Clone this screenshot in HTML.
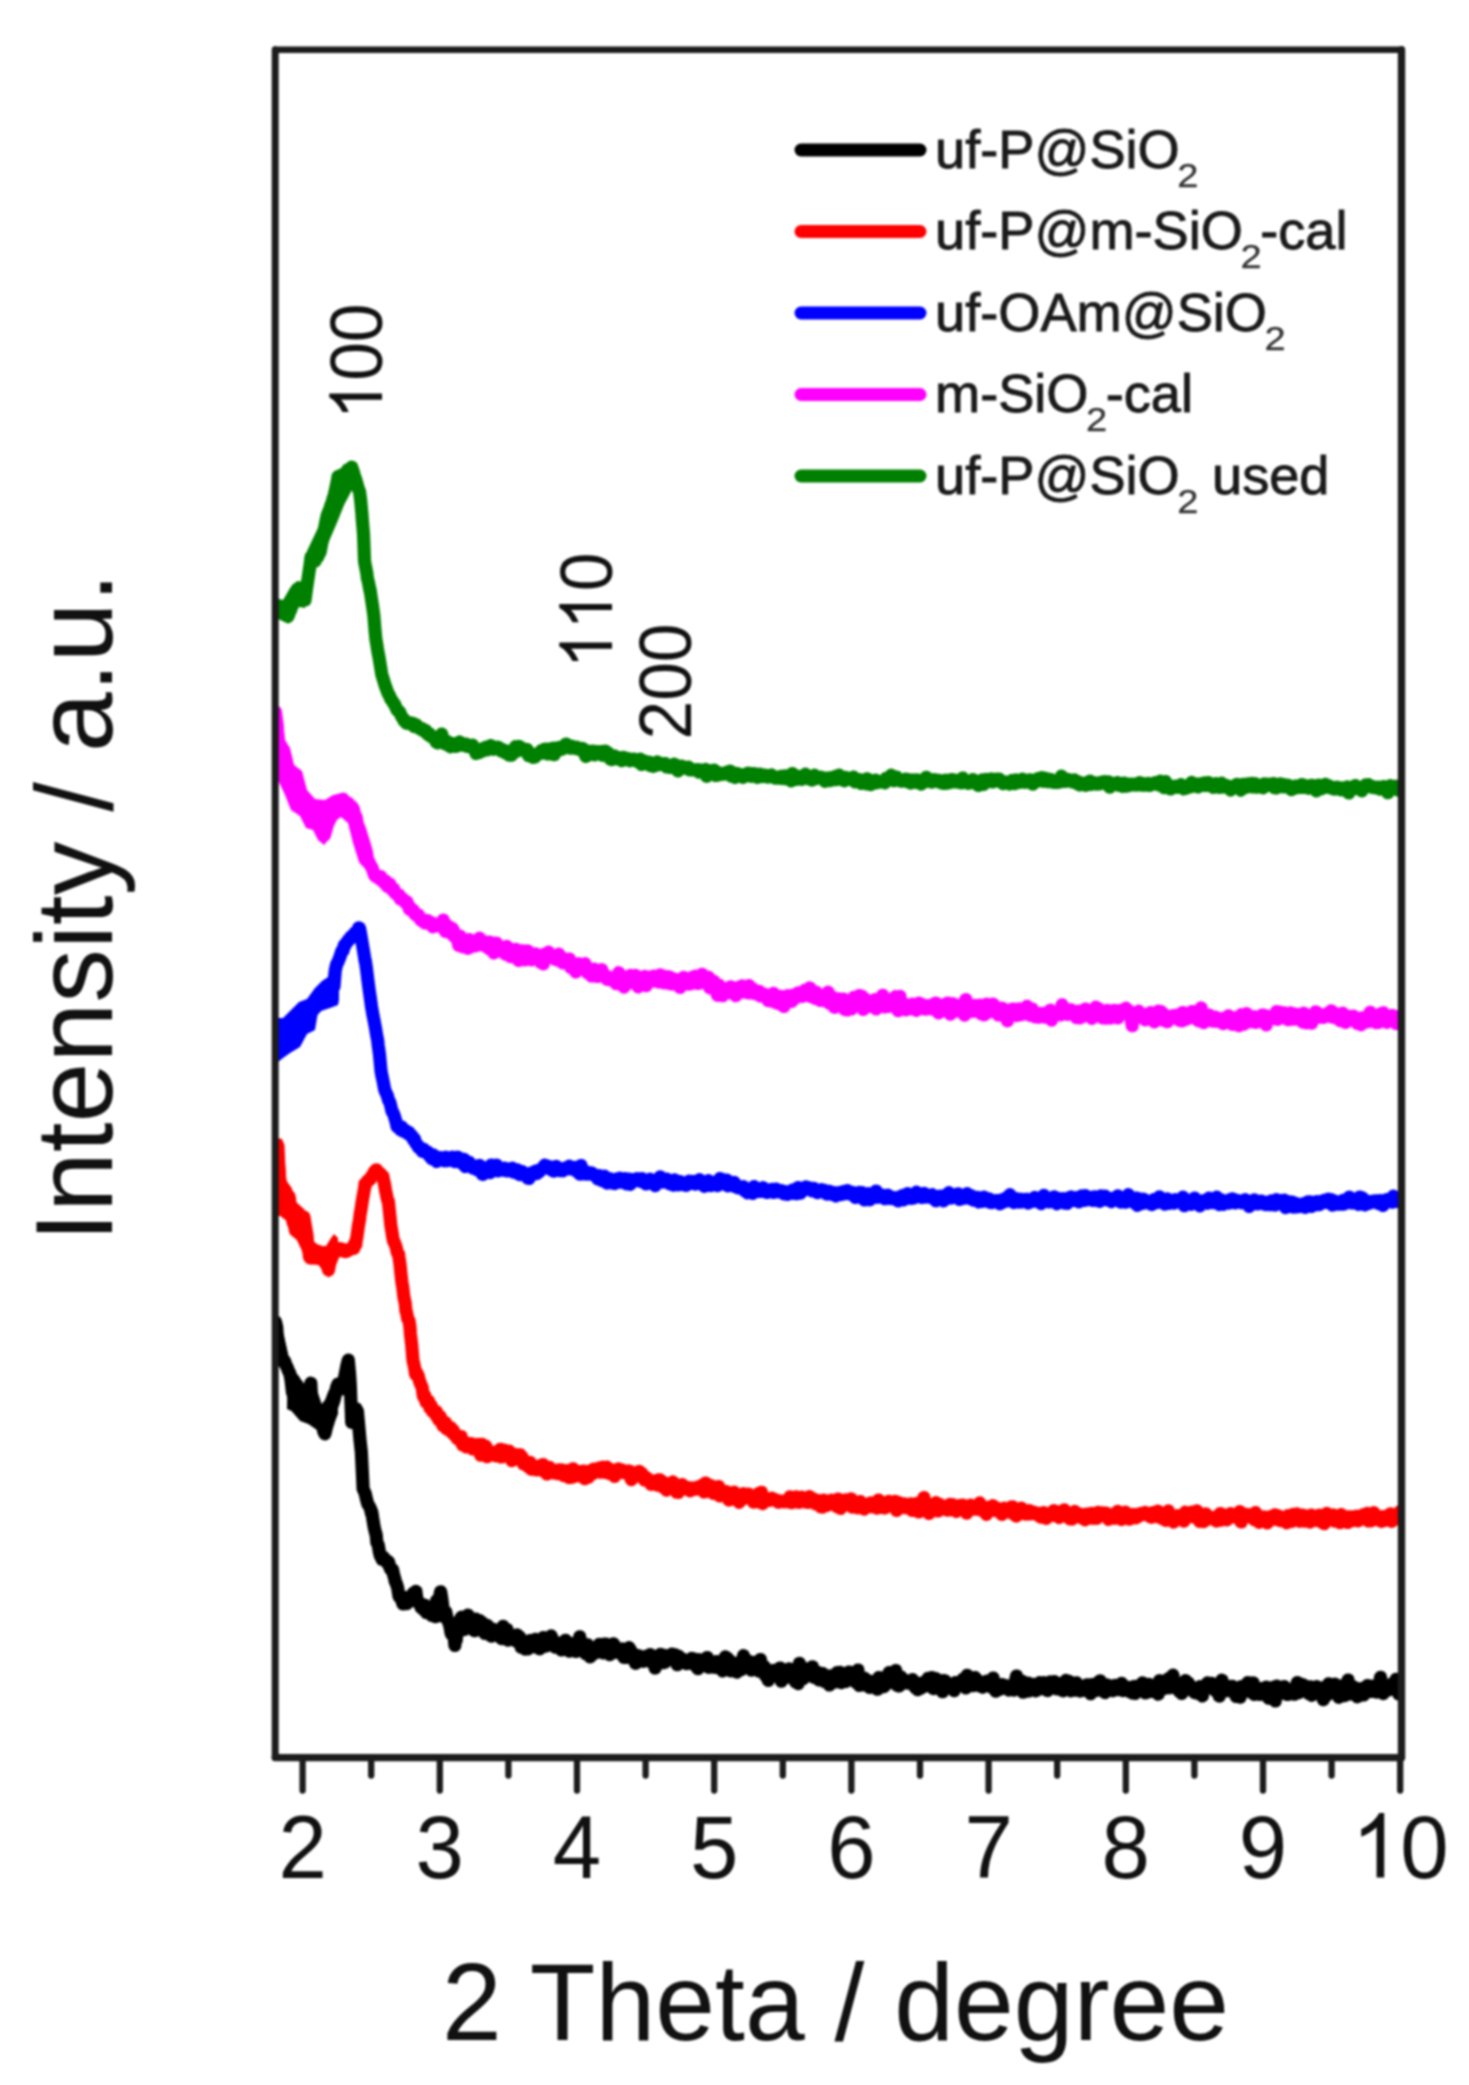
<!DOCTYPE html>
<html><head><meta charset="utf-8"><style>
html,body{margin:0;padding:0;background:#fff;}
body{width:1469px;height:2085px;overflow:hidden;font-family:"Liberation Sans",sans-serif;}
svg{display:block;}
#w{width:1469px;height:2085px;filter:blur(1px);}
</style></head><body>
<div id="w"><svg width="1469" height="2085" viewBox="0 0 1469 2085"><defs><clipPath id="pc"><rect x="274.9" y="49.5" width="1126.4" height="1708.0"/></clipPath></defs><g clip-path="url(#pc)" fill="none" stroke-width="13.2" stroke-linejoin="round" stroke-linecap="round"><path stroke="#008000" d="M275.0 608.3L276.3 608.5 277.6 610.0 278.9 611.9 280.2 612.5 281.0 613.0 281.5 613.4 282.8 613.9 284.1 614.5 285.4 614.4 286.7 615.9 288.0 616.4 289.3 612.8 290.6 610.0 291.9 604.6 293.0 602.0 293.2 601.5 294.5 596.0 295.8 593.4 297.0 590.1 297.1 589.3 298.4 593.3 299.7 594.9 301.0 597.1 302.3 599.7 303.6 599.3 304.9 599.8 305.0 600.1 306.2 591.2 307.5 582.1 308.8 573.6 310.1 564.7 311.0 557.0 311.4 558.3 312.7 558.7 314.0 560.4 315.0 561.1 315.3 560.3 316.6 557.1 317.9 556.7 319.2 553.1 320.0 552.6 320.5 549.8 321.8 543.1 323.1 536.8 324.4 529.4 325.7 522.4 327.0 516.3 328.3 512.6 329.6 509.5 330.9 505.4 332.2 502.0 333.5 497.3 334.0 498.0 334.8 493.4 336.1 486.8 337.4 480.2 338.0 476.6 338.7 476.8 340.0 475.7 341.3 475.5 342.6 474.6 343.9 474.1 345.2 472.9 346.0 472.8 346.5 473.1 347.8 469.8 349.1 469.6 350.4 468.6 351.7 467.2 352.0 468.3 353.0 470.7 354.3 475.3 355.6 479.1 356.0 480.2 356.9 483.5 358.2 488.4 359.5 491.5 360.0 494.7 360.8 501.7 362.0 514.9 362.1 517.4 363.4 532.7 363.6 535.7 364.5 560.2 364.7 562.3 366.0 568.9 367.0 574.2 367.3 577.7 368.6 583.0 369.9 590.4 370.0 589.2 371.2 597.2 372.5 605.7 373.5 612.8 373.8 614.9 375.1 631.4 376.0 640.2 376.4 642.0 377.7 650.5 379.0 657.2 380.3 665.3 381.6 673.3 382.0 675.2 382.9 678.0 384.2 682.3 385.5 686.5 386.8 689.8 387.0 690.6 388.1 693.6 389.4 695.4 390.7 698.8 392.0 700.4 393.3 702.7 394.0 703.6 394.6 704.3 395.9 707.5 397.2 710.2 398.5 710.9 399.8 712.4 401.1 715.6 402.4 717.7 403.7 719.1 404.0 720.9 405.0 720.6 406.3 723.1 407.6 722.4 408.9 723.5 410.2 722.9 411.5 723.9 412.8 723.4 414.0 726.4 414.1 726.1 415.4 724.6 416.7 725.2 418.0 726.9 419.3 728.4 420.6 729.2 421.9 728.7 423.2 730.8 424.5 731.2 425.0 730.8 425.8 730.4 427.1 733.5 428.4 734.8 429.7 734.0 431.0 736.6 432.3 736.7 433.6 737.6 434.9 738.7 436.2 742.0 437.5 742.9 438.8 742.5 439.0 740.4 440.1 740.5 441.4 734.5 441.7 734.1 442.7 738.7 444.0 742.1 445.3 744.1 446.6 742.6 447.9 741.7 449.2 746.0 450.5 746.7 451.8 745.4 453.1 743.5 454.4 746.2 455.0 745.4 455.7 746.4 457.0 743.4 458.3 745.6 459.6 741.9 460.9 744.2 462.2 743.9 463.5 745.1 464.8 744.1 466.1 744.0 467.4 746.5 468.7 745.4 470.0 746.8 471.3 746.6 472.0 747.3 472.6 745.2 473.9 749.5 475.2 750.7 476.0 753.5 476.5 750.0 477.8 751.7 479.1 752.7 480.4 751.2 481.7 751.2 483.0 748.3 484.3 749.0 485.6 747.2 486.9 750.0 488.2 748.0 489.5 747.3 490.8 745.5 492.1 746.3 493.4 749.3 494.7 747.2 496.0 747.8 497.3 747.2 498.6 747.5 499.9 748.5 501.2 750.9 502.5 750.6 503.8 750.2 505.1 752.7 506.4 752.7 507.7 754.0 509.0 755.2 510.0 752.7 510.3 751.0 511.6 755.2 512.9 751.2 514.2 751.9 515.5 746.6 516.8 751.3 518.1 747.8 519.0 748.9 519.4 746.4 520.7 748.6 522.0 750.1 523.3 748.6 524.6 751.0 525.9 751.3 527.2 749.7 528.5 755.7 529.8 752.7 531.1 756.0 532.4 756.7 533.0 757.4 533.7 755.4 535.0 756.9 536.3 754.2 537.6 754.7 538.9 753.5 540.0 752.9 540.2 752.0 541.5 750.6 542.8 753.2 544.1 749.3 545.4 751.8 546.7 749.1 548.0 754.0 549.3 749.6 550.6 752.5 551.9 748.4 553.2 748.2 554.0 754.7 554.5 752.8 555.8 748.9 557.1 751.3 558.4 747.6 559.7 747.5 561.0 747.8 562.3 749.1 563.6 747.1 564.9 745.1 566.2 744.1 567.0 746.2 567.5 747.2 568.8 746.0 570.1 748.2 571.4 746.0 572.7 747.2 574.0 747.5 575.3 748.4 576.6 747.1 577.9 748.5 579.2 748.3 580.5 750.0 581.8 748.5 583.1 748.8 584.4 751.4 585.7 756.4 587.0 751.0 588.3 755.1 589.6 751.8 590.9 754.2 592.2 751.0 593.5 751.7 594.0 751.4 594.8 754.9 596.1 751.6 597.4 751.7 598.7 751.9 600.0 753.2 601.3 751.5 602.6 755.3 603.9 753.6 605.2 751.0 606.5 755.5 607.8 752.5 609.1 756.9 610.4 759.1 611.7 759.6 613.0 758.2 614.3 755.8 615.6 757.0 616.9 758.9 618.2 759.0 619.5 757.7 620.8 758.8 622.0 760.7 622.1 759.5 623.4 757.3 624.7 758.6 626.0 758.5 627.3 758.6 628.6 758.8 629.9 760.8 631.2 759.3 632.5 759.3 633.8 759.2 635.1 760.2 636.4 760.9 637.7 761.4 639.0 762.4 640.3 759.1 641.6 764.5 642.9 763.7 644.2 760.9 645.5 762.3 646.8 764.0 648.1 763.7 649.0 762.1 649.4 763.3 650.7 765.7 652.0 765.4 653.3 766.3 654.6 765.7 655.9 764.7 657.2 761.9 658.5 764.8 659.8 763.2 661.1 764.0 662.4 764.1 663.7 764.3 665.0 763.5 666.3 766.9 667.6 765.7 668.9 767.1 670.2 766.3 671.5 767.5 672.8 765.6 674.1 764.1 675.4 765.9 676.0 766.7 676.7 765.3 678.0 771.0 679.3 768.6 680.6 767.2 681.9 766.0 683.2 767.2 684.5 767.0 685.8 768.1 687.1 768.7 688.4 767.1 689.7 769.9 691.0 769.8 692.3 769.9 693.6 769.6 694.9 769.9 696.2 770.4 697.5 769.6 698.8 772.1 700.1 769.8 701.4 770.9 702.7 771.9 703.0 771.1 704.0 771.2 705.3 769.4 706.6 776.3 707.9 773.4 709.2 770.6 710.5 771.0 711.8 771.8 713.1 772.8 714.4 770.1 715.7 775.5 717.0 774.9 718.3 775.1 719.6 773.1 720.9 773.3 722.2 774.0 723.5 773.4 724.8 774.0 726.1 772.9 727.4 772.1 728.7 773.5 730.0 771.1 731.0 773.1 731.3 776.2 732.6 774.2 733.9 772.8 735.2 777.4 736.5 776.1 737.8 773.7 739.1 774.9 740.4 775.8 741.7 774.8 743.0 777.4 744.3 775.8 745.6 775.0 746.9 773.7 748.2 773.1 749.5 774.5 750.8 776.3 752.1 773.5 753.4 775.1 754.7 773.6 756.0 776.5 757.3 777.4 758.0 776.1 758.6 775.6 759.9 774.2 761.2 775.0 762.5 776.6 763.8 775.2 765.1 775.2 766.4 776.4 767.7 777.2 769.0 775.6 770.3 776.4 771.6 774.9 772.9 776.6 774.2 777.7 775.5 778.1 776.8 777.7 778.1 778.2 779.4 777.1 780.7 776.4 782.0 778.5 783.3 776.2 784.6 778.7 785.0 776.9 785.9 775.9 787.2 779.0 788.5 778.3 789.8 779.0 791.1 781.0 792.4 773.5 793.7 776.5 795.0 778.0 796.3 779.5 797.6 776.2 798.9 777.3 800.2 778.2 801.5 779.3 802.8 778.8 804.1 776.5 805.4 774.2 806.7 777.3 808.0 777.6 809.3 779.0 810.6 778.3 811.9 777.7 812.0 780.1 813.2 778.6 814.5 775.2 815.8 778.7 817.1 777.4 818.4 778.0 819.7 777.7 821.0 777.2 822.3 777.8 823.6 777.8 824.9 781.3 826.2 779.7 827.5 778.9 828.8 777.8 830.1 780.6 831.4 780.1 832.7 778.0 834.0 776.8 835.3 779.7 836.6 776.0 837.9 779.4 839.2 775.1 840.0 777.9 840.5 777.8 841.8 777.8 843.1 778.0 844.4 780.8 845.7 777.4 847.0 778.1 848.3 778.6 849.6 779.3 850.9 778.9 852.2 778.8 853.5 777.0 854.8 781.9 856.1 781.0 857.4 781.2 858.7 780.2 860.0 779.7 861.3 783.5 862.6 780.8 863.9 781.8 865.2 781.6 866.5 783.8 867.0 778.8 867.8 783.0 869.1 783.4 870.4 784.6 871.7 784.3 873.0 781.8 874.3 780.8 875.6 780.1 876.9 782.7 878.2 782.3 879.5 782.0 880.8 781.9 882.1 781.8 883.4 781.0 884.7 782.8 886.0 778.4 887.3 779.0 888.6 777.7 889.9 778.9 891.2 775.2 892.5 778.0 893.8 780.7 894.0 779.4 895.1 779.6 896.4 777.0 897.7 778.8 899.0 779.8 900.3 781.0 901.6 780.6 902.9 781.2 904.2 780.5 905.5 779.2 906.8 779.3 908.1 782.0 909.4 781.4 910.7 783.1 912.0 779.9 913.3 781.7 914.6 780.2 915.9 782.4 917.2 779.8 918.5 781.8 919.8 780.8 921.0 782.1 921.1 784.2 922.4 782.5 923.7 782.4 925.0 779.0 926.3 777.3 927.6 781.0 928.9 780.8 930.2 780.7 931.5 782.2 932.8 780.2 934.1 779.6 935.4 781.0 936.7 781.3 938.0 780.0 939.3 782.2 940.6 780.9 941.9 783.1 943.2 780.5 944.5 783.5 945.8 780.1 947.1 783.1 948.4 783.0 949.7 780.7 951.0 779.6 952.3 779.6 953.6 781.9 954.9 781.8 956.2 780.5 957.5 781.1 958.8 782.5 960.1 782.5 961.4 782.9 962.7 778.0 964.0 779.5 965.3 780.6 966.6 781.5 967.9 783.3 969.2 783.0 970.5 782.3 971.8 782.5 973.1 779.5 974.4 782.6 975.7 781.8 977.0 783.1 978.3 785.4 979.6 782.9 980.9 782.2 982.2 779.9 983.5 784.5 984.8 782.9 986.1 779.4 987.4 779.7 988.7 780.1 990.0 779.3 991.3 778.8 992.6 781.9 993.9 781.5 995.2 781.1 996.5 779.1 997.8 780.1 999.1 779.1 1000.0 781.0 1000.4 781.8 1001.7 781.9 1003.0 783.7 1004.3 781.9 1005.6 782.0 1006.9 782.2 1008.2 783.0 1009.5 784.0 1010.8 783.4 1012.1 780.4 1013.4 783.0 1014.7 783.7 1016.0 779.9 1017.3 780.7 1018.6 782.1 1019.9 782.4 1021.2 781.6 1022.5 779.2 1023.8 781.0 1025.1 782.4 1026.4 781.1 1027.7 781.6 1029.0 779.8 1030.3 779.8 1031.6 782.1 1032.9 784.2 1034.2 781.5 1035.5 780.8 1036.8 781.2 1038.1 778.6 1039.4 780.1 1040.7 780.3 1042.0 777.5 1043.3 781.3 1044.6 778.1 1045.9 778.7 1047.2 781.7 1048.5 779.2 1049.8 781.6 1051.1 779.5 1052.4 782.0 1053.7 782.3 1055.0 781.4 1056.3 782.2 1057.6 782.5 1058.9 782.0 1060.2 781.9 1061.5 776.1 1062.8 781.3 1064.1 779.0 1065.4 781.3 1066.7 780.5 1068.0 779.4 1069.3 779.9 1070.6 781.4 1071.9 781.2 1073.2 782.2 1074.5 779.9 1075.8 782.1 1077.1 783.6 1078.4 781.8 1079.7 785.0 1081.0 783.4 1082.3 784.1 1083.6 783.6 1084.9 783.1 1086.2 785.2 1087.5 784.7 1088.8 781.7 1090.1 781.0 1091.4 784.4 1092.7 783.5 1094.0 783.9 1095.3 783.1 1096.6 784.2 1097.9 783.8 1099.2 784.0 1100.0 782.7 1100.5 782.7 1101.8 782.0 1103.1 782.3 1104.4 781.6 1105.7 783.7 1107.0 782.4 1108.3 781.8 1109.6 787.2 1110.9 784.9 1112.2 783.6 1113.5 784.1 1114.8 784.6 1116.1 783.5 1117.4 782.5 1118.7 785.4 1120.0 784.6 1121.3 783.8 1122.6 786.4 1123.9 783.0 1125.2 784.5 1126.5 786.2 1127.8 784.9 1129.1 784.1 1130.4 785.1 1131.7 784.1 1133.0 784.4 1134.3 784.1 1135.6 785.0 1136.9 784.1 1138.2 784.8 1139.5 782.5 1140.8 783.4 1142.1 785.2 1143.4 783.6 1144.7 785.2 1146.0 785.2 1147.3 784.2 1148.6 783.4 1149.9 785.5 1151.2 784.3 1152.5 784.2 1153.8 784.2 1155.1 782.7 1156.4 783.8 1157.7 783.9 1159.0 785.1 1160.3 781.2 1161.6 783.4 1162.9 785.1 1164.2 787.7 1165.5 781.5 1166.8 784.6 1168.1 785.2 1169.4 788.4 1170.7 789.0 1172.0 786.4 1173.3 787.1 1174.6 786.3 1175.9 786.2 1177.2 787.3 1178.5 787.0 1179.8 785.7 1181.1 784.8 1182.4 785.6 1183.7 788.9 1185.0 787.6 1186.3 788.2 1187.6 786.0 1188.9 786.5 1190.2 787.0 1191.5 782.4 1192.8 783.7 1194.1 785.1 1195.4 783.9 1196.7 786.5 1198.0 786.9 1199.3 783.9 1200.0 785.3 1200.6 785.7 1201.9 784.1 1203.2 785.4 1204.5 782.9 1205.8 785.5 1207.1 784.3 1208.4 782.5 1209.7 785.6 1211.0 785.4 1212.3 786.2 1213.6 787.5 1214.9 786.3 1216.2 783.5 1217.5 785.9 1218.8 787.4 1220.1 785.0 1221.4 783.2 1222.7 787.1 1224.0 785.6 1225.3 785.3 1226.6 785.5 1227.9 787.6 1229.2 786.5 1230.5 790.1 1231.8 788.5 1233.1 786.5 1234.4 786.9 1235.7 785.0 1237.0 784.3 1238.3 786.9 1239.6 785.6 1240.9 790.1 1242.2 784.6 1243.5 784.3 1244.8 785.5 1246.1 787.5 1247.4 783.9 1248.7 784.3 1250.0 785.4 1251.3 783.4 1252.6 787.0 1253.9 786.5 1255.2 783.7 1256.5 787.2 1257.8 785.8 1259.1 786.8 1260.4 785.2 1261.7 786.4 1263.0 787.8 1264.3 783.8 1265.6 786.0 1266.9 784.4 1268.2 784.1 1269.5 784.9 1270.8 784.0 1272.1 784.1 1273.4 783.5 1274.7 787.8 1276.0 788.0 1277.3 785.9 1278.6 785.9 1279.9 783.8 1281.2 786.6 1282.5 784.3 1283.8 786.9 1285.1 785.8 1286.4 785.2 1287.7 785.1 1289.0 785.6 1290.3 788.6 1291.6 789.7 1292.9 787.7 1294.2 787.1 1295.5 786.1 1296.8 787.8 1298.1 785.9 1299.4 786.6 1300.0 786.3 1300.7 787.5 1302.0 784.5 1303.3 785.5 1304.6 787.4 1305.9 785.9 1307.2 786.6 1308.5 788.3 1309.8 786.4 1311.1 785.3 1312.4 785.4 1313.7 787.7 1315.0 788.5 1316.3 790.9 1317.6 785.4 1318.9 785.1 1320.2 787.0 1321.5 788.9 1322.8 786.2 1324.1 785.4 1325.4 784.4 1326.7 787.2 1328.0 785.6 1329.3 785.9 1330.6 787.8 1331.9 787.6 1333.2 788.8 1334.5 789.1 1335.8 787.4 1337.1 787.1 1338.4 789.0 1339.7 789.2 1341.0 789.9 1342.3 788.0 1343.6 788.4 1344.9 788.2 1346.2 787.8 1347.5 786.9 1348.8 793.0 1350.1 789.3 1351.4 789.8 1352.7 787.7 1354.0 786.2 1355.3 785.5 1356.6 787.3 1357.9 788.6 1359.2 787.7 1360.5 789.0 1361.8 790.8 1363.1 787.9 1364.4 786.5 1365.7 784.9 1367.0 786.3 1368.3 784.7 1369.6 786.4 1370.9 787.0 1372.2 786.4 1373.5 787.6 1374.8 787.7 1376.1 787.4 1377.4 788.1 1378.7 787.2 1380.0 789.2 1381.3 787.2 1382.6 788.5 1383.9 786.5 1385.2 787.8 1386.5 788.0 1387.8 792.7 1389.1 787.0 1390.4 785.7 1391.7 786.3 1393.0 788.8 1394.3 786.7 1395.6 786.3 1396.9 788.1 1398.2 790.0 1399.5 789.6 1400.0 788.1 1400.8 787.5 1402.1 788.9 1403.4 791.6 1404.7 789.1 1406.0 789.7"/><path fill="#008000" stroke="none" d="M275.0 598.0 L283.0 600.0 L286.0 595.0 L290.0 588.0 L297.0 581.0 L304.0 582.0 L306.0 570.0 L307.0 551.0 L316.0 532.0 L324.0 515.0 L328.6 491.0 L334.0 472.0 L344.0 467.0 L351.7 461.0 L357.0 463.0 L359.0 481.0 L354.5 494.5 L352.0 490.0 L344.2 504.7 L337.4 521.7 L327.2 545.5 L322.0 556.0 L315.0 570.0 L307.0 595.0 L305.0 608.0 L299.0 607.0 L294.0 616.0 L288.0 624.0 L282.0 618.0 L275.0 616.0Z"/><path stroke="#ff00ff" d="M275.5 712.0L276.8 723.3 277.0 724.3 278.1 743.8 278.2 744.9 279.4 745.6 280.7 748.0 282.0 752.1 283.3 750.7 284.6 755.3 285.0 756.3 285.9 760.8 287.2 766.2 288.5 768.6 289.0 773.0 289.8 772.6 291.1 776.3 292.4 777.5 293.7 780.5 295.0 780.4 296.3 783.7 297.0 785.3 297.6 794.2 298.0 800.7 298.9 802.1 300.2 798.6 301.5 800.2 302.8 798.0 304.1 801.5 305.4 803.2 306.7 801.7 308.0 803.4 309.3 807.7 310.6 808.6 311.9 812.4 313.2 815.5 313.6 814.1 314.5 813.4 315.8 814.5 317.1 813.8 318.4 815.8 319.7 811.8 320.0 812.1 321.0 816.7 322.3 825.4 323.6 830.7 324.5 834.8 324.9 833.3 326.2 828.9 327.5 824.3 328.8 821.5 329.0 820.2 330.1 818.9 331.4 815.8 332.7 813.4 334.0 810.7 335.3 811.8 336.6 810.1 337.9 807.2 339.2 801.4 340.5 803.1 341.8 802.5 342.0 801.0 343.1 799.1 344.4 801.8 345.7 806.8 347.0 804.0 348.3 803.2 349.6 806.0 350.9 808.6 352.0 808.2 352.2 807.1 353.5 809.3 354.8 816.1 356.1 817.0 357.4 824.2 358.5 827.5 358.7 827.1 360.0 830.9 361.3 835.2 362.6 839.4 363.9 843.5 365.2 847.9 366.5 852.8 367.8 861.2 368.0 862.3 369.1 862.1 370.4 865.5 371.7 867.0 373.0 870.4 374.3 874.7 375.0 875.7 375.6 876.3 376.9 876.8 378.2 877.9 379.5 876.8 380.0 879.2 380.8 876.6 382.1 880.4 383.4 881.8 384.7 883.2 386.0 881.2 387.3 886.3 388.6 884.5 389.9 884.1 391.2 888.6 392.5 890.0 393.8 889.1 395.1 893.1 396.4 893.8 397.7 895.2 399.0 894.8 400.3 898.9 401.6 899.3 401.8 899.0 402.9 898.8 404.2 900.8 405.5 902.7 406.8 901.7 408.1 904.6 409.4 909.2 410.7 908.1 412.0 909.6 413.3 910.2 414.6 913.6 415.9 915.2 417.2 915.1 418.5 915.1 419.8 918.5 421.1 920.2 422.4 919.3 423.6 921.8 423.7 921.9 425.0 923.0 426.3 921.9 427.6 920.7 428.9 922.7 430.2 922.0 431.5 923.1 432.8 926.8 434.1 925.8 435.4 924.1 436.7 925.2 438.0 926.0 439.3 925.9 440.6 924.1 441.9 924.3 443.2 920.1 444.5 926.1 445.4 931.4 445.8 924.6 447.1 931.5 448.4 926.2 449.7 928.1 451.0 933.5 452.3 928.4 453.6 930.8 454.9 937.1 456.2 934.5 457.5 938.8 458.8 945.4 460.1 936.2 461.4 944.1 462.7 946.8 464.0 941.9 465.3 942.4 466.6 946.1 467.0 945.8 467.9 948.3 469.2 939.5 470.5 943.2 471.8 946.3 473.1 945.0 474.4 942.3 475.7 945.9 477.0 945.4 478.3 941.1 479.6 938.2 480.9 944.3 482.2 943.8 483.5 945.0 484.8 945.9 486.1 942.1 487.4 943.1 488.7 948.6 489.0 943.1 490.0 942.1 491.3 943.2 492.6 948.4 493.9 953.0 495.2 950.8 496.5 943.2 497.8 948.2 499.1 946.3 500.4 951.1 501.7 949.7 503.0 948.9 504.3 947.8 505.6 954.3 506.9 946.4 508.2 950.1 509.5 948.5 510.7 955.4 510.8 956.7 512.1 954.2 513.4 956.1 514.7 953.5 516.0 949.4 517.3 954.6 518.6 960.5 519.9 953.3 521.2 957.7 522.5 950.8 523.8 957.2 525.1 959.9 526.4 957.0 527.7 950.9 529.0 956.9 530.3 954.2 531.6 959.9 532.5 958.2 532.9 956.9 534.2 958.0 535.5 953.8 536.8 956.2 538.1 959.2 539.4 958.0 540.7 962.4 542.0 958.9 543.3 963.9 544.6 954.0 545.9 956.1 547.2 957.0 548.5 952.2 549.8 957.2 551.1 954.8 552.4 955.5 553.7 955.3 554.3 957.3 555.0 959.3 556.3 956.3 557.6 960.2 558.9 954.2 560.2 957.4 561.5 957.1 562.8 962.8 564.1 961.8 565.4 959.6 566.7 962.8 568.0 962.5 569.3 959.0 570.6 967.3 571.9 963.9 573.2 966.7 574.5 968.3 575.8 972.0 576.0 965.8 577.1 964.3 578.4 963.8 579.7 965.3 581.0 968.1 582.3 966.5 583.6 965.5 584.9 963.7 586.2 967.2 587.5 972.8 588.8 972.2 590.1 972.0 591.4 976.0 592.7 975.4 594.0 969.0 595.3 976.1 596.6 971.7 597.9 976.4 599.2 971.9 600.5 973.3 601.8 969.7 603.1 973.5 604.4 977.1 605.7 976.5 607.0 979.4 608.3 976.8 609.6 979.6 610.9 979.5 612.2 979.5 613.5 981.1 614.8 977.4 616.1 983.7 617.4 982.2 618.7 972.7 619.6 973.8 620.0 981.3 621.3 981.5 622.6 977.6 623.9 987.1 625.2 978.6 626.5 982.2 627.8 983.6 629.1 977.7 630.4 975.4 631.7 978.5 633.0 976.9 634.3 981.8 635.6 975.4 636.9 982.8 638.2 986.9 639.5 979.8 640.8 979.0 641.4 981.8 642.1 980.5 643.4 977.8 644.7 976.3 646.0 985.7 647.3 977.1 648.6 980.0 649.9 981.0 651.2 981.4 652.5 980.0 653.8 976.0 655.1 980.3 656.4 981.1 657.7 976.0 659.0 982.1 660.3 974.9 661.6 981.3 662.9 977.5 663.2 977.9 664.2 982.9 665.5 976.5 666.8 981.8 668.1 983.3 669.4 976.9 670.7 980.2 672.0 984.1 673.3 978.6 674.6 980.4 675.9 982.6 677.2 982.4 678.5 985.1 679.8 979.4 680.0 987.5 681.1 983.6 682.4 980.7 683.7 977.4 685.0 984.1 686.3 981.7 687.6 979.6 688.9 984.1 690.2 983.9 691.5 983.5 692.8 977.0 694.1 977.3 695.4 976.0 696.7 979.7 698.0 983.5 699.3 982.7 700.6 982.8 701.9 974.3 702.0 978.9 703.2 977.3 704.5 980.1 705.8 982.2 707.1 983.5 708.4 977.3 709.7 987.8 711.0 983.3 712.3 987.6 713.6 981.2 714.9 988.5 716.2 989.4 717.5 995.3 718.8 985.0 720.1 990.6 721.0 988.1 721.4 987.4 722.7 995.7 724.0 991.8 725.3 992.8 726.6 992.0 727.9 990.4 729.2 990.3 730.5 986.8 731.8 993.3 733.1 992.7 734.4 989.6 735.7 995.6 737.0 990.5 738.3 987.3 739.6 991.4 740.9 992.1 742.2 985.9 743.5 991.2 744.8 992.1 746.1 988.7 747.4 992.0 748.0 992.9 748.7 985.5 750.0 992.8 751.3 989.2 752.6 988.6 753.9 993.3 755.2 991.3 756.5 994.1 757.8 992.5 759.1 991.3 760.4 995.9 761.7 994.4 763.0 995.8 764.3 994.2 765.6 997.5 766.9 996.7 768.2 1000.7 769.5 996.3 770.8 999.7 772.1 996.5 773.4 993.4 774.7 1002.2 775.0 999.9 776.0 1000.8 777.3 1003.3 778.6 996.2 779.9 997.2 781.2 996.5 782.5 997.3 783.8 1006.5 785.1 998.4 786.4 998.9 787.7 995.7 789.0 997.6 790.3 996.4 791.6 1001.3 792.9 995.0 794.2 999.0 795.5 994.4 796.8 994.9 798.1 992.8 799.4 996.4 800.7 993.5 802.0 996.4 803.3 993.8 804.6 991.4 805.0 990.0 805.9 995.1 807.2 989.7 808.5 995.8 809.8 987.9 811.1 996.7 812.4 996.5 813.7 996.0 815.0 998.3 816.3 992.3 817.6 995.5 818.9 998.6 820.2 1000.5 821.5 997.4 822.8 998.1 824.1 997.8 825.4 1000.9 826.7 996.0 828.0 992.2 829.3 1003.2 830.6 1001.9 831.9 996.9 832.0 1002.0 833.2 1005.5 834.5 1007.3 835.8 1000.9 837.1 1005.7 838.4 998.8 839.7 1004.4 841.0 1005.6 842.3 1000.0 843.6 999.1 844.9 1009.6 846.2 1006.7 847.5 1009.9 848.8 1002.0 850.1 1001.0 851.4 1008.9 852.7 1002.3 854.0 997.3 855.3 1002.4 856.6 1004.7 857.9 1004.0 859.2 995.5 860.5 1003.6 861.8 996.3 863.1 1009.4 864.4 998.4 865.7 1000.3 867.0 1003.0 868.3 1001.2 869.6 1006.5 870.0 1001.0 870.9 1004.3 872.2 1004.4 873.5 1004.5 874.8 999.7 876.1 1008.9 877.4 1000.9 878.7 1000.6 880.0 1002.6 881.3 1004.2 882.6 995.3 883.9 1002.3 885.2 1007.0 886.5 1004.3 887.8 1004.2 889.1 1006.3 890.4 1004.7 891.7 999.4 893.0 1000.0 894.3 1004.2 895.6 996.7 896.9 1004.4 898.0 1010.7 898.2 1003.7 899.5 1008.4 900.0 996.4 900.8 1003.5 902.1 1005.6 903.4 1007.1 904.7 1004.3 906.0 1009.8 907.3 1006.3 908.6 1005.4 909.9 1006.6 911.2 1008.8 912.5 1004.0 913.8 1006.8 915.1 1005.5 916.4 1010.3 917.7 1007.2 919.0 1003.0 920.3 1006.9 921.6 1004.2 922.9 1008.7 924.2 1006.9 925.5 1009.0 926.8 1008.5 928.1 1005.5 929.4 1008.6 930.7 1008.6 932.0 1009.0 933.0 1009.0 933.3 1007.7 934.6 1003.5 935.9 1003.1 937.2 1008.9 938.5 1013.0 939.8 1011.5 941.1 1007.0 942.4 1009.8 943.7 1008.6 945.0 1004.2 946.3 1006.5 947.6 1003.0 948.9 1008.8 950.2 1014.1 951.5 1007.6 952.8 1003.7 954.1 1008.9 955.4 1011.2 956.7 1005.3 958.0 1010.3 959.3 1008.9 960.6 1007.2 961.9 1007.4 963.2 1012.7 964.5 1015.1 965.8 999.6 967.1 1008.6 968.0 1011.6 968.4 1004.4 969.7 1007.1 971.0 1010.2 972.3 1011.2 973.6 1010.3 974.9 1005.4 976.2 1009.5 977.5 1011.4 978.8 1012.1 980.1 1005.2 981.4 1013.9 982.7 1007.6 984.0 1014.8 985.3 1005.1 986.6 1004.0 987.9 1009.2 989.2 1012.1 990.5 1007.5 991.8 1010.1 993.1 1004.1 994.4 1005.7 995.7 1008.5 997.0 1010.3 998.3 1014.9 999.6 1012.6 1000.0 1010.9 1000.9 1011.6 1002.2 1008.1 1003.5 1016.0 1004.8 1010.4 1006.1 1010.6 1007.4 1020.8 1008.7 1010.1 1010.0 1014.0 1011.3 1012.0 1012.6 1009.2 1013.9 1009.2 1015.2 1011.9 1016.5 1015.6 1017.8 1013.5 1019.1 1008.9 1020.4 1014.9 1021.7 1010.5 1023.0 1009.1 1024.3 1009.2 1025.6 1013.9 1026.9 1006.3 1028.2 1009.5 1029.5 1013.4 1030.8 1015.5 1032.1 1008.9 1033.4 1013.9 1034.7 1013.7 1036.0 1017.0 1037.3 1016.9 1038.6 1017.3 1039.9 1015.3 1041.2 1013.3 1042.5 1015.3 1043.8 1016.6 1045.1 1017.1 1046.4 1015.2 1047.7 1012.1 1049.0 1012.8 1050.3 1010.2 1051.6 1020.1 1052.9 1013.4 1054.2 1015.5 1055.5 1014.9 1056.8 1015.0 1058.1 1012.8 1059.4 1010.8 1060.7 1014.9 1062.0 1004.9 1063.3 1011.6 1064.6 1010.2 1065.9 1010.6 1067.2 1014.4 1068.5 1009.9 1069.8 1011.8 1071.1 1009.8 1072.4 1013.1 1073.7 1011.9 1075.0 1015.5 1076.3 1017.6 1077.6 1013.5 1078.9 1011.0 1080.0 1017.9 1080.2 1015.0 1081.5 1016.4 1082.8 1016.0 1084.1 1016.1 1085.4 1009.0 1086.7 1014.5 1088.0 1012.5 1089.3 1013.6 1090.6 1012.8 1091.9 1018.3 1093.2 1012.8 1094.5 1014.0 1095.8 1007.2 1097.1 1015.1 1098.4 1008.5 1099.7 1014.3 1101.0 1013.1 1102.3 1017.9 1103.6 1016.3 1104.9 1018.2 1106.2 1018.1 1107.5 1010.4 1108.8 1017.5 1110.1 1018.1 1111.4 1017.6 1112.7 1014.2 1114.0 1010.3 1115.3 1016.0 1116.6 1017.0 1117.9 1018.0 1119.2 1010.5 1120.5 1014.2 1121.0 1014.7 1121.8 1013.7 1123.1 1009.8 1124.4 1009.8 1125.7 1008.2 1127.0 1010.9 1128.3 1010.4 1129.6 1014.5 1130.9 1016.9 1132.2 1025.7 1133.5 1013.2 1134.8 1018.0 1136.1 1017.4 1137.4 1013.2 1138.7 1011.2 1140.0 1012.9 1141.3 1016.9 1142.6 1016.6 1143.9 1014.5 1145.2 1019.8 1146.5 1018.5 1147.8 1019.1 1149.1 1016.7 1150.4 1012.5 1151.7 1015.3 1153.0 1017.0 1154.3 1021.8 1155.6 1014.7 1156.9 1013.4 1158.2 1011.1 1159.5 1019.2 1160.8 1011.5 1162.1 1019.9 1163.4 1013.9 1164.7 1020.7 1166.0 1016.6 1167.3 1021.7 1168.6 1017.5 1169.9 1016.3 1171.2 1017.5 1172.5 1015.9 1173.8 1017.5 1175.1 1015.3 1176.4 1017.0 1177.7 1019.3 1179.0 1016.3 1180.3 1020.6 1181.6 1013.2 1182.0 1020.9 1182.9 1012.5 1184.2 1019.7 1185.5 1014.5 1186.8 1019.2 1188.1 1013.3 1189.4 1014.1 1190.7 1016.3 1192.0 1011.5 1193.3 1011.8 1194.6 1014.9 1195.9 1017.1 1197.2 1019.7 1198.5 1020.8 1199.8 1014.6 1201.1 1007.9 1202.4 1020.5 1203.7 1022.6 1205.0 1016.5 1206.3 1020.3 1207.6 1020.1 1208.9 1015.0 1210.2 1020.4 1211.5 1017.0 1212.8 1021.1 1214.1 1019.0 1215.4 1017.1 1216.7 1021.3 1218.0 1020.1 1219.3 1021.1 1220.6 1018.7 1221.9 1018.5 1223.2 1023.7 1224.5 1020.1 1225.8 1022.2 1227.1 1022.0 1228.4 1015.8 1229.7 1017.7 1231.0 1020.6 1232.3 1024.4 1233.6 1017.9 1234.9 1018.8 1236.2 1017.5 1237.5 1020.0 1238.8 1025.7 1240.1 1022.4 1241.4 1014.7 1242.7 1018.1 1244.0 1024.2 1245.3 1022.2 1246.6 1013.7 1247.9 1019.3 1249.2 1018.4 1250.5 1021.8 1251.8 1020.2 1253.1 1020.2 1254.4 1016.7 1255.7 1022.4 1257.0 1020.1 1258.3 1020.6 1259.6 1021.5 1260.9 1017.8 1262.2 1015.2 1263.5 1015.1 1264.8 1017.5 1266.1 1024.9 1267.4 1016.5 1268.7 1016.4 1270.0 1017.7 1271.3 1017.0 1272.6 1015.9 1273.9 1018.6 1275.2 1017.2 1276.5 1011.6 1277.8 1019.3 1279.1 1012.0 1280.4 1017.4 1281.7 1012.7 1283.0 1016.6 1284.3 1012.8 1285.6 1017.1 1286.9 1016.3 1288.2 1019.7 1289.5 1019.5 1290.8 1012.9 1292.1 1019.2 1293.4 1013.7 1294.7 1019.2 1296.0 1014.4 1297.3 1015.8 1298.6 1014.3 1299.9 1017.4 1301.2 1018.5 1302.5 1022.1 1303.8 1013.2 1305.0 1016.3 1305.1 1020.6 1306.4 1023.0 1307.7 1022.1 1309.0 1020.4 1310.3 1018.9 1311.6 1023.1 1312.9 1018.0 1314.2 1015.2 1315.5 1011.8 1316.8 1012.4 1318.1 1014.1 1319.4 1017.1 1320.7 1015.1 1322.0 1015.7 1323.3 1017.4 1324.6 1014.9 1325.9 1016.3 1327.2 1013.5 1328.5 1013.1 1329.8 1015.2 1331.1 1010.8 1332.4 1017.2 1333.7 1016.9 1335.0 1013.3 1336.3 1018.1 1337.6 1016.3 1338.9 1014.4 1340.2 1020.6 1341.5 1016.0 1342.8 1013.2 1344.1 1018.3 1345.4 1022.4 1346.7 1015.9 1348.0 1020.3 1349.3 1017.9 1350.6 1019.9 1351.9 1020.0 1353.2 1016.0 1354.5 1017.0 1355.8 1021.0 1357.1 1023.3 1358.4 1020.2 1359.7 1022.9 1361.0 1024.8 1362.3 1017.8 1363.6 1018.1 1364.9 1019.3 1366.0 1018.5 1366.2 1022.1 1367.5 1016.8 1368.8 1021.4 1370.1 1012.3 1371.4 1018.4 1372.7 1017.3 1374.0 1021.7 1375.3 1017.6 1376.6 1022.7 1377.9 1021.2 1379.2 1022.3 1380.5 1013.9 1381.8 1018.7 1383.1 1012.8 1384.4 1017.2 1385.7 1017.5 1387.0 1022.3 1388.3 1019.4 1389.6 1019.9 1390.9 1019.1 1392.2 1015.4 1393.5 1021.0 1394.8 1020.0 1396.1 1023.6 1397.4 1016.5 1398.7 1021.7 1400.0 1019.2 1401.3 1019.7 1402.6 1024.8 1403.9 1019.1 1405.2 1018.4"/><path fill="#ff00ff" stroke="none" d="M276.0 706.0 L280.0 708.0 L283.0 720.0 L285.0 740.0 L290.0 748.0 L294.0 765.0 L302.0 771.0 L307.0 790.0 L315.0 799.0 L325.0 800.0 L333.0 795.0 L342.0 793.0 L350.0 800.0 L357.0 810.0 L362.0 825.0 L362.0 866.0 L359.0 862.0 L353.0 843.0 L348.0 823.0 L341.0 817.0 L334.0 822.0 L330.0 838.0 L324.0 845.0 L318.0 840.0 L313.0 830.0 L306.0 828.0 L300.0 816.0 L291.0 810.0 L285.0 795.0 L278.0 780.0 L276.0 780.0Z"/><path stroke="#0000ff" d="M275.5 1041.6L276.8 1040.4 278.1 1038.4 279.4 1040.5 280.7 1037.9 282.0 1037.8 283.3 1037.4 284.6 1038.8 285.9 1037.8 287.2 1037.5 287.7 1034.9 288.5 1035.1 289.8 1035.0 291.1 1032.5 292.4 1030.2 293.7 1029.3 295.0 1027.2 296.3 1025.8 297.0 1025.9 297.6 1024.9 298.9 1021.8 300.2 1021.3 301.5 1019.0 302.8 1020.9 304.1 1018.9 305.4 1019.2 306.7 1016.4 307.0 1016.8 308.0 1016.7 309.3 1014.6 310.6 1013.6 311.9 1011.5 313.2 1010.0 314.5 1007.9 315.0 1008.0 315.8 1007.1 317.1 1005.7 318.4 1003.0 319.7 1001.9 321.0 1000.9 322.3 998.9 323.6 996.5 324.5 995.0 324.9 995.1 326.2 993.5 327.5 992.0 328.8 991.7 330.1 991.5 331.4 988.0 332.7 988.2 334.0 986.5 335.3 970.1 335.5 969.6 336.6 964.4 337.9 962.2 339.2 958.9 340.5 955.3 341.8 951.0 343.1 950.6 344.4 945.1 345.0 945.6 345.7 943.6 347.0 942.3 348.3 940.2 349.6 939.4 350.9 936.9 352.2 935.9 353.5 936.4 354.4 934.9 354.8 932.9 356.1 933.8 357.4 931.8 358.7 927.8 359.5 928.2 360.0 930.4 361.3 937.9 362.6 945.5 363.9 953.1 365.2 961.4 365.3 960.5 366.5 968.7 367.8 979.5 369.1 989.5 370.4 998.5 371.7 1008.0 372.0 1009.3 373.0 1015.3 374.3 1021.8 375.6 1028.8 376.9 1036.7 377.6 1039.7 378.2 1045.3 379.5 1054.6 380.8 1068.6 381.0 1070.7 382.1 1076.7 383.4 1082.7 384.5 1088.5 384.7 1089.6 386.0 1092.9 387.3 1095.5 388.6 1100.4 389.9 1102.5 391.2 1107.8 392.0 1111.2 392.5 1111.8 393.8 1114.4 395.1 1118.6 396.4 1123.3 397.0 1126.7 397.7 1126.4 399.0 1127.5 400.3 1129.6 401.6 1126.9 402.9 1131.0 404.2 1131.1 405.5 1130.4 406.8 1132.8 408.1 1134.0 409.0 1132.4 409.4 1133.1 410.7 1135.6 412.0 1135.9 413.3 1139.6 414.6 1139.2 415.0 1141.6 415.9 1143.4 417.2 1144.7 418.5 1147.4 419.8 1147.6 421.0 1148.2 421.1 1149.1 422.4 1151.3 423.7 1149.3 425.0 1151.7 426.3 1152.3 427.6 1152.1 428.9 1155.3 430.2 1156.3 431.5 1158.5 432.8 1154.7 433.5 1159.5 434.1 1159.2 435.4 1156.3 436.7 1161.5 438.0 1157.8 439.3 1158.9 440.6 1157.7 441.9 1160.1 443.2 1159.7 444.5 1160.8 445.8 1157.2 447.1 1160.7 448.4 1158.5 449.7 1160.1 451.0 1157.6 452.3 1157.1 453.6 1157.5 454.9 1161.7 456.2 1157.6 457.5 1160.1 458.0 1157.2 458.8 1157.8 460.1 1161.9 461.4 1159.3 462.7 1164.1 464.0 1159.4 465.3 1166.6 466.6 1161.8 467.9 1163.2 469.2 1162.2 470.5 1164.7 471.8 1166.5 473.1 1168.2 474.4 1166.2 475.7 1166.3 477.0 1169.9 478.3 1168.5 479.6 1165.4 480.9 1171.6 482.2 1171.7 482.5 1174.4 483.5 1167.9 484.8 1171.8 486.1 1168.8 487.4 1171.4 488.7 1168.0 490.0 1172.6 491.3 1165.0 492.6 1168.7 493.9 1170.0 495.2 1169.4 496.5 1165.1 497.8 1171.0 499.1 1168.2 500.4 1168.4 501.7 1169.6 503.0 1170.2 504.3 1168.2 505.6 1169.9 506.9 1169.8 507.0 1171.0 508.2 1168.9 509.5 1170.4 510.8 1170.0 512.1 1168.2 513.4 1172.0 514.7 1172.3 516.0 1171.5 517.3 1169.9 518.6 1174.0 519.9 1174.7 521.2 1174.1 522.5 1171.7 523.8 1173.4 525.1 1173.5 526.4 1174.1 527.0 1175.9 527.7 1178.1 529.0 1178.5 530.3 1174.8 531.6 1172.8 532.9 1172.6 534.2 1173.5 535.5 1171.1 536.8 1173.7 538.1 1170.7 539.4 1171.7 540.7 1169.9 542.0 1168.4 543.3 1168.0 544.0 1167.3 544.6 1165.2 545.9 1166.5 547.2 1165.9 548.5 1168.4 549.8 1167.8 551.1 1167.1 552.4 1170.5 553.7 1171.2 555.0 1167.6 556.3 1166.3 557.6 1169.9 558.9 1170.5 560.2 1168.6 561.5 1169.9 562.0 1170.0 562.8 1170.8 564.1 1169.2 565.4 1168.0 566.7 1168.9 568.0 1167.5 569.3 1166.2 570.6 1169.0 571.9 1168.6 573.2 1168.4 574.5 1169.9 575.8 1167.3 577.1 1171.6 578.4 1168.2 579.0 1167.7 579.7 1174.1 581.0 1165.6 582.3 1170.7 583.6 1173.9 584.9 1171.3 586.2 1171.6 587.5 1174.2 588.8 1172.8 590.1 1172.8 591.4 1172.8 592.7 1173.6 594.0 1175.3 595.3 1175.9 596.6 1175.8 597.9 1179.0 599.0 1178.3 599.2 1175.7 600.5 1176.8 601.8 1180.6 603.1 1177.4 604.4 1176.2 605.7 1180.2 607.0 1183.1 608.3 1178.8 609.6 1178.5 610.9 1182.9 612.2 1180.9 613.5 1182.4 614.8 1183.6 616.1 1180.6 617.4 1178.9 618.7 1182.1 620.0 1178.2 621.3 1182.2 622.6 1179.4 623.9 1181.3 625.2 1178.6 626.5 1183.9 627.0 1182.7 627.8 1180.9 629.1 1179.0 630.4 1184.4 631.7 1181.8 633.0 1179.6 634.3 1181.0 635.6 1180.8 636.9 1178.7 638.2 1180.0 639.5 1179.3 640.8 1181.5 642.1 1178.5 643.4 1181.7 644.7 1181.3 646.0 1183.9 647.3 1183.5 648.6 1181.8 649.9 1179.2 651.2 1180.3 652.5 1180.5 653.0 1182.0 653.8 1183.7 655.1 1185.7 656.4 1180.8 657.7 1181.7 659.0 1178.2 660.3 1176.8 661.6 1180.6 662.9 1182.2 664.2 1179.5 665.5 1180.4 666.8 1179.2 668.1 1182.4 669.4 1183.8 670.7 1182.4 672.0 1180.8 673.3 1185.1 674.6 1179.9 675.9 1182.0 677.2 1181.4 678.5 1184.9 679.8 1181.5 680.0 1183.8 681.1 1182.7 682.4 1183.7 683.7 1184.8 685.0 1184.6 686.3 1185.4 687.6 1183.1 688.9 1181.1 690.2 1183.1 691.5 1183.4 692.8 1181.4 694.1 1181.8 695.4 1184.1 696.7 1181.2 698.0 1182.2 699.3 1179.7 700.6 1180.6 701.9 1181.8 703.2 1185.4 704.5 1186.3 705.8 1183.2 707.1 1185.3 708.4 1180.7 709.7 1184.1 711.0 1185.6 712.3 1182.1 713.6 1184.2 714.9 1184.9 716.2 1184.8 717.5 1185.6 718.8 1180.6 720.1 1178.5 721.4 1183.8 722.7 1183.0 724.0 1179.9 725.3 1183.6 726.6 1180.0 727.9 1185.9 729.2 1183.9 730.5 1183.1 731.8 1183.1 733.1 1185.8 734.4 1182.4 735.7 1187.0 737.0 1186.8 738.3 1187.9 739.6 1186.6 740.9 1186.9 742.2 1187.3 743.5 1186.7 744.8 1190.6 746.1 1190.4 747.4 1192.8 748.7 1190.2 750.0 1192.3 751.3 1189.0 752.6 1193.4 753.9 1186.6 755.2 1190.1 756.5 1189.2 757.8 1191.4 758.0 1191.2 759.1 1190.6 760.4 1191.4 761.7 1191.3 763.0 1187.7 764.3 1189.3 765.6 1190.3 766.9 1192.5 768.2 1190.2 769.5 1190.0 770.8 1190.3 772.1 1189.3 773.4 1192.4 774.7 1190.8 776.0 1189.1 777.3 1191.8 778.6 1190.7 779.9 1190.9 781.2 1190.6 782.5 1191.0 783.8 1193.8 785.1 1191.5 786.4 1192.9 787.7 1194.5 789.0 1191.6 790.3 1192.5 791.6 1192.2 792.9 1190.0 794.2 1193.5 795.5 1189.2 796.8 1193.7 798.1 1187.5 799.4 1190.5 800.7 1193.1 802.0 1188.4 803.3 1189.3 804.6 1190.0 805.9 1186.8 807.2 1188.1 808.5 1187.5 809.0 1188.5 809.8 1189.4 811.1 1189.7 812.4 1191.0 813.7 1188.3 815.0 1189.1 816.3 1191.0 817.6 1192.7 818.9 1191.9 820.2 1190.6 821.5 1189.5 822.8 1191.1 824.1 1190.3 825.4 1192.1 826.7 1194.1 828.0 1191.3 829.3 1191.3 830.6 1192.2 831.9 1194.4 833.2 1193.1 834.5 1192.6 835.8 1195.8 837.1 1193.1 838.4 1192.9 839.7 1192.4 841.0 1194.6 842.3 1192.1 843.6 1191.6 844.9 1193.8 846.2 1193.1 847.5 1190.6 848.8 1193.8 850.1 1193.7 851.4 1193.9 852.7 1192.4 854.0 1194.3 855.3 1197.5 856.6 1195.4 857.9 1194.5 859.2 1192.3 860.5 1197.3 861.0 1193.2 861.8 1192.6 863.1 1196.8 864.4 1199.9 865.7 1194.3 867.0 1198.2 868.3 1193.6 869.6 1199.9 870.9 1194.7 872.2 1194.1 873.5 1193.9 874.8 1193.7 876.1 1191.0 877.4 1197.4 878.7 1197.0 880.0 1196.7 881.3 1196.9 882.6 1195.4 883.9 1196.1 885.2 1198.7 886.5 1198.4 887.8 1195.2 889.1 1196.7 890.4 1198.5 891.7 1197.9 893.0 1197.3 894.3 1198.0 895.6 1199.5 896.9 1199.2 898.2 1200.9 899.5 1196.9 900.8 1200.2 902.1 1195.7 903.4 1199.9 904.7 1199.2 906.0 1195.4 907.3 1193.7 908.6 1198.2 909.9 1197.5 911.2 1198.3 912.5 1198.2 913.0 1196.1 913.8 1197.9 915.1 1197.1 916.4 1192.1 917.7 1196.7 919.0 1195.6 920.3 1196.7 921.6 1197.5 922.9 1196.5 924.2 1193.3 925.5 1197.1 926.8 1196.1 928.1 1196.6 929.4 1197.2 930.7 1196.4 932.0 1194.7 933.3 1197.0 934.6 1199.2 935.9 1200.8 937.2 1198.9 938.5 1196.4 939.8 1198.3 941.1 1196.1 942.4 1197.5 943.7 1200.9 945.0 1196.3 946.3 1194.9 947.6 1196.2 948.9 1192.6 950.2 1197.2 951.5 1198.1 952.0 1197.2 952.8 1196.3 954.1 1195.8 955.4 1196.6 956.7 1197.6 958.0 1193.8 959.3 1199.5 960.6 1196.9 961.9 1195.4 963.2 1198.4 964.5 1196.9 965.8 1196.6 967.1 1193.6 968.4 1198.0 969.7 1198.6 971.0 1195.5 972.3 1196.3 973.6 1200.1 974.9 1200.1 976.2 1198.7 977.5 1197.4 978.8 1202.0 980.1 1199.7 981.4 1198.9 982.7 1201.4 984.0 1197.1 985.3 1200.5 986.6 1200.6 987.9 1198.6 989.2 1198.9 990.0 1202.5 990.5 1201.6 991.8 1202.7 993.1 1200.7 994.4 1201.3 995.7 1200.8 997.0 1200.5 998.3 1200.6 999.6 1203.8 1000.9 1203.3 1002.2 1199.6 1003.5 1201.5 1004.8 1200.6 1006.1 1201.3 1007.4 1197.1 1008.7 1198.3 1010.0 1194.7 1011.3 1199.3 1012.6 1198.9 1013.9 1202.6 1015.2 1198.3 1016.5 1201.2 1017.8 1201.4 1019.1 1202.1 1020.4 1199.0 1021.7 1202.0 1023.0 1200.8 1024.3 1200.9 1025.6 1199.3 1026.9 1199.3 1028.2 1203.1 1029.5 1200.6 1030.8 1201.8 1032.1 1200.4 1033.4 1201.1 1034.7 1197.4 1036.0 1199.6 1037.3 1199.8 1038.6 1202.0 1039.9 1200.3 1040.0 1198.3 1041.2 1203.6 1042.5 1201.0 1043.8 1195.4 1045.1 1199.7 1046.4 1198.3 1047.7 1198.6 1049.0 1201.8 1050.3 1201.0 1051.6 1201.2 1052.9 1200.6 1054.2 1196.8 1055.5 1200.3 1056.8 1203.8 1058.1 1199.8 1059.4 1198.7 1060.7 1200.6 1062.0 1199.9 1063.3 1198.7 1064.6 1203.1 1065.9 1200.4 1067.2 1203.4 1068.5 1198.5 1069.8 1197.5 1071.1 1196.9 1072.4 1199.7 1073.7 1200.4 1075.0 1200.6 1076.3 1197.6 1077.6 1199.7 1078.9 1201.9 1080.2 1198.8 1081.5 1195.8 1082.8 1200.5 1084.1 1200.4 1085.4 1195.7 1086.7 1198.7 1088.0 1199.6 1089.3 1198.6 1090.6 1197.6 1091.9 1199.9 1093.2 1200.5 1094.5 1196.8 1095.8 1197.0 1097.1 1200.0 1098.4 1199.1 1099.7 1201.3 1101.0 1195.9 1102.3 1199.1 1103.6 1198.7 1104.9 1196.0 1106.2 1199.7 1107.5 1199.0 1108.8 1200.3 1110.1 1198.6 1111.4 1201.7 1112.7 1198.4 1114.0 1199.8 1115.3 1198.8 1116.6 1197.7 1117.9 1196.0 1118.0 1195.8 1119.2 1200.1 1120.5 1202.1 1121.8 1201.2 1123.1 1200.1 1124.4 1198.6 1125.7 1202.2 1127.0 1200.6 1128.3 1194.7 1129.6 1196.9 1130.9 1198.5 1132.2 1199.6 1133.5 1200.0 1134.8 1203.2 1136.1 1198.0 1137.4 1205.3 1138.7 1201.7 1140.0 1199.1 1141.3 1203.7 1142.6 1199.0 1143.9 1199.5 1145.2 1202.9 1146.5 1200.7 1147.8 1201.4 1149.1 1202.2 1150.4 1202.0 1151.7 1204.6 1153.0 1201.5 1154.3 1199.3 1155.6 1200.5 1156.9 1202.6 1158.2 1201.6 1159.5 1196.8 1160.8 1201.5 1162.1 1199.5 1163.4 1199.7 1164.7 1204.1 1166.0 1199.9 1167.3 1198.8 1168.6 1203.5 1169.9 1200.6 1171.2 1200.8 1172.5 1201.7 1173.8 1203.2 1175.1 1199.7 1176.4 1200.8 1177.7 1201.2 1179.0 1201.4 1180.3 1201.0 1181.6 1202.4 1182.9 1197.2 1184.2 1205.7 1185.5 1201.8 1186.8 1201.7 1188.1 1200.0 1189.4 1202.4 1190.7 1204.4 1192.0 1203.1 1193.3 1202.3 1194.6 1198.0 1195.0 1199.9 1195.9 1199.5 1197.2 1200.2 1198.5 1200.9 1199.8 1205.9 1201.1 1202.1 1202.4 1202.6 1203.7 1200.6 1205.0 1200.6 1206.3 1201.4 1207.6 1203.3 1208.9 1198.2 1210.2 1202.4 1211.5 1201.6 1212.8 1202.5 1214.1 1201.6 1215.4 1201.9 1216.7 1197.1 1218.0 1203.1 1219.3 1204.5 1220.6 1203.7 1221.9 1199.9 1223.2 1204.3 1224.5 1201.0 1225.8 1201.3 1227.1 1203.1 1228.4 1203.2 1229.7 1199.7 1231.0 1200.5 1232.3 1198.9 1233.6 1201.5 1234.9 1203.0 1236.2 1200.1 1237.5 1202.2 1238.8 1201.4 1240.1 1201.3 1241.4 1202.8 1242.7 1201.5 1244.0 1200.3 1245.3 1199.7 1246.6 1202.2 1247.9 1202.9 1249.2 1206.5 1250.5 1202.1 1251.8 1201.1 1253.1 1202.3 1254.4 1199.8 1255.7 1202.4 1257.0 1203.9 1258.3 1203.8 1259.6 1201.7 1260.9 1201.1 1262.2 1201.3 1263.5 1203.9 1264.8 1202.2 1266.1 1204.7 1267.4 1204.0 1268.7 1204.1 1270.0 1204.7 1271.3 1200.9 1272.6 1201.9 1273.0 1203.1 1273.9 1201.2 1275.2 1205.1 1276.5 1199.6 1277.8 1203.0 1279.1 1201.7 1280.4 1200.6 1281.7 1202.0 1283.0 1200.8 1284.3 1200.1 1285.6 1207.6 1286.9 1203.1 1288.2 1201.7 1289.5 1205.6 1290.8 1203.9 1292.1 1202.0 1293.4 1207.1 1294.7 1206.8 1296.0 1203.4 1297.3 1206.8 1298.6 1204.7 1299.9 1205.0 1301.2 1206.4 1302.5 1204.4 1303.8 1203.5 1305.1 1207.4 1306.4 1203.4 1307.7 1201.9 1309.0 1204.8 1310.3 1201.8 1311.6 1206.4 1312.9 1205.5 1314.2 1203.0 1315.5 1203.2 1316.8 1201.6 1318.1 1204.6 1319.4 1204.6 1320.7 1202.3 1322.0 1203.0 1323.3 1200.4 1324.6 1200.2 1325.9 1202.5 1327.2 1199.7 1328.5 1199.1 1329.8 1202.3 1331.1 1199.7 1332.4 1205.1 1333.7 1200.6 1335.0 1202.4 1336.3 1202.0 1337.6 1204.2 1338.9 1202.4 1340.2 1203.7 1341.5 1204.1 1342.8 1200.4 1344.1 1204.1 1345.4 1200.4 1346.7 1201.4 1348.0 1198.6 1349.3 1197.1 1350.0 1200.8 1350.6 1202.7 1351.9 1202.9 1353.2 1202.3 1354.5 1201.7 1355.8 1202.3 1357.1 1202.1 1358.4 1204.3 1359.7 1197.0 1361.0 1200.8 1362.3 1197.8 1363.6 1204.2 1364.9 1204.9 1366.2 1201.1 1367.5 1201.3 1368.8 1203.3 1370.1 1202.8 1371.4 1202.7 1372.7 1201.1 1374.0 1201.5 1375.3 1200.8 1376.6 1201.1 1377.9 1200.8 1379.2 1203.8 1380.5 1200.5 1381.8 1201.6 1383.1 1205.5 1384.4 1201.8 1385.7 1202.3 1387.0 1199.6 1388.3 1199.8 1389.6 1199.7 1390.9 1199.0 1392.2 1202.1 1393.5 1196.1 1394.8 1201.6 1396.1 1200.6 1397.4 1198.4 1398.7 1201.6 1400.0 1201.9 1401.3 1201.8 1402.6 1202.4 1403.9 1199.3 1405.2 1202.8"/><path fill="#0000ff" stroke="none" d="M275.0 1018.0 L283.0 1018.0 L286.0 1015.0 L290.0 1011.0 L299.0 1002.0 L307.0 999.0 L315.0 988.0 L322.0 981.0 L328.0 977.0 L330.0 965.0 L335.0 955.0 L339.0 942.0 L339.0 1000.0 L338.0 1005.0 L330.0 1008.0 L318.0 1012.0 L315.0 1030.0 L307.0 1034.0 L300.0 1047.0 L290.0 1053.0 L283.0 1058.0 L278.0 1062.0 L275.0 1062.0Z"/><path stroke="#ff0000" d="M276.5 1146.1L277.8 1158.6 278.0 1160.4 279.1 1170.2 279.5 1177.0 280.4 1183.1 281.7 1195.8 282.3 1198.5 283.0 1201.4 284.3 1198.6 285.6 1199.2 286.9 1196.8 288.2 1196.4 289.0 1196.5 289.5 1199.2 290.8 1210.1 292.1 1215.9 293.0 1221.7 293.4 1223.1 294.7 1221.6 296.0 1219.8 297.3 1220.1 298.6 1220.9 299.9 1219.6 301.2 1220.4 302.5 1217.3 303.8 1218.5 304.0 1217.2 305.1 1224.3 306.4 1231.8 307.0 1235.2 307.7 1244.5 309.0 1252.4 309.5 1257.1 310.3 1256.4 311.6 1258.0 312.9 1254.8 314.2 1253.5 315.5 1255.2 316.8 1253.0 318.1 1255.3 319.4 1252.1 320.7 1252.4 322.0 1253.2 323.3 1254.6 324.6 1259.1 325.9 1263.4 327.2 1264.8 328.5 1269.9 329.8 1263.3 331.1 1259.7 332.4 1256.7 333.7 1251.4 334.0 1248.4 335.0 1248.7 336.3 1248.4 337.6 1250.4 338.9 1250.7 340.2 1248.5 341.5 1249.4 342.8 1249.3 344.1 1251.3 345.0 1251.6 345.4 1251.3 346.7 1251.2 348.0 1250.6 349.3 1249.3 350.6 1249.4 351.9 1247.6 353.2 1248.4 354.0 1248.4 354.5 1243.5 355.8 1244.6 356.0 1242.1 357.1 1235.6 358.4 1226.0 359.7 1218.9 360.0 1215.1 361.0 1209.6 362.3 1200.7 363.6 1193.5 364.9 1186.2 365.0 1183.9 366.2 1183.3 367.5 1181.1 368.8 1180.1 370.1 1179.3 371.4 1176.6 372.7 1176.2 374.0 1172.2 375.3 1170.8 376.0 1170.0 376.6 1169.8 377.9 1172.6 379.2 1172.6 380.5 1173.8 381.8 1176.3 383.0 1176.3 383.1 1177.6 384.4 1183.6 385.7 1191.0 387.0 1197.4 388.3 1202.4 388.4 1201.5 389.6 1213.2 390.9 1225.9 392.2 1233.4 392.5 1236.1 393.5 1240.9 394.8 1243.4 396.1 1247.1 397.4 1252.8 398.7 1254.3 399.0 1257.4 400.0 1264.2 401.3 1277.3 402.0 1282.9 402.6 1286.1 403.9 1297.1 405.2 1303.2 406.0 1311.3 406.5 1312.2 407.8 1318.9 409.1 1320.9 410.0 1327.5 410.4 1333.7 411.7 1344.8 413.0 1360.6 414.3 1366.0 415.6 1374.3 416.9 1373.1 418.2 1375.7 419.5 1381.3 420.0 1382.2 420.8 1384.5 422.1 1387.3 423.4 1396.4 424.7 1395.3 426.0 1402.0 427.3 1400.4 428.6 1401.2 429.9 1407.9 431.2 1405.6 432.5 1411.2 433.8 1411.4 435.1 1411.0 436.0 1415.5 436.4 1411.7 437.7 1417.7 439.0 1420.1 440.3 1416.5 441.6 1421.2 442.9 1425.8 444.2 1424.7 445.5 1422.6 446.8 1429.1 448.1 1428.3 449.4 1430.0 450.7 1427.6 451.0 1431.9 452.0 1432.6 453.3 1430.2 454.6 1435.4 455.9 1434.4 457.2 1438.4 458.5 1439.5 459.8 1436.5 461.1 1436.6 462.4 1444.8 463.7 1444.3 465.0 1442.3 466.3 1447.0 467.6 1445.8 468.9 1445.7 470.2 1443.6 471.5 1443.8 472.8 1449.0 474.1 1445.8 475.4 1445.7 476.7 1448.4 478.0 1444.3 479.3 1447.2 480.0 1447.7 480.6 1455.1 481.9 1444.4 483.2 1449.3 484.5 1448.2 485.8 1446.2 487.1 1456.7 488.4 1456.0 489.7 1451.3 491.0 1452.3 492.3 1452.7 493.6 1452.9 494.9 1452.3 496.0 1453.9 496.2 1456.0 497.5 1454.1 498.8 1455.4 500.1 1449.3 501.4 1457.0 502.7 1451.0 504.0 1450.1 505.3 1450.5 506.6 1454.7 507.9 1453.5 509.2 1451.1 510.5 1454.4 511.8 1460.6 513.1 1456.3 514.4 1455.3 515.7 1454.6 517.0 1458.0 518.3 1454.8 519.6 1457.6 520.0 1454.9 520.9 1460.7 522.2 1457.2 523.5 1464.1 524.8 1463.5 526.1 1462.3 527.4 1466.0 528.7 1467.2 530.0 1462.4 531.3 1469.3 532.6 1467.6 533.9 1469.1 535.0 1466.2 535.2 1466.8 536.5 1470.0 537.8 1466.6 539.1 1467.5 540.4 1470.0 541.7 1465.1 543.0 1464.5 544.3 1471.4 545.6 1471.4 546.9 1474.0 548.2 1471.2 549.5 1467.3 550.8 1472.0 552.1 1472.0 553.4 1473.0 554.7 1472.7 556.0 1472.9 557.3 1473.7 558.6 1469.8 559.9 1473.4 561.2 1469.8 562.5 1471.4 563.8 1475.6 565.1 1472.0 566.4 1470.6 567.7 1472.9 568.0 1476.6 569.0 1477.6 570.3 1476.0 571.6 1477.3 572.9 1468.8 574.2 1473.9 575.5 1476.3 576.8 1473.4 578.1 1475.3 579.4 1471.6 580.7 1473.5 582.0 1476.8 583.3 1471.0 584.6 1478.7 585.9 1473.0 587.2 1471.7 588.5 1477.2 589.8 1470.9 591.1 1473.6 592.4 1473.7 593.7 1469.0 595.0 1469.6 596.3 1469.7 597.6 1469.4 598.9 1468.0 600.2 1472.3 601.5 1470.5 602.8 1467.1 604.1 1468.9 605.4 1472.5 606.7 1467.0 608.0 1468.9 609.3 1473.5 610.6 1472.1 611.0 1469.6 611.9 1471.0 613.2 1470.9 614.5 1476.4 615.8 1473.2 617.1 1472.0 618.4 1468.8 619.7 1470.1 621.0 1471.7 622.3 1470.1 623.6 1472.6 624.9 1473.0 626.2 1472.5 627.5 1472.7 628.8 1471.0 630.1 1471.5 631.4 1479.7 632.0 1478.4 632.7 1475.9 634.0 1476.4 635.3 1475.4 636.6 1473.1 637.9 1475.9 639.2 1471.4 640.5 1475.7 641.8 1473.3 643.1 1476.0 644.4 1480.0 645.7 1477.3 647.0 1478.0 648.3 1480.8 649.6 1480.8 650.9 1484.3 652.2 1482.0 653.5 1484.1 654.8 1480.9 656.1 1480.5 657.0 1484.5 657.4 1485.2 658.7 1479.8 660.0 1479.8 661.3 1482.3 662.6 1487.0 663.9 1482.3 665.2 1485.8 666.5 1490.1 667.8 1486.4 669.1 1485.7 670.4 1486.5 671.7 1488.3 673.0 1481.9 674.3 1484.3 675.6 1486.5 676.9 1492.2 678.2 1492.3 679.5 1487.1 680.8 1488.7 682.1 1484.5 683.4 1486.4 684.0 1488.4 684.7 1486.5 686.0 1489.1 687.3 1487.4 688.6 1488.9 689.9 1490.9 691.2 1487.8 692.5 1489.7 693.8 1489.5 695.1 1487.8 696.4 1489.1 697.7 1487.7 699.0 1486.7 700.3 1487.2 701.6 1486.8 702.9 1484.5 704.2 1492.0 705.5 1483.0 706.8 1490.2 708.1 1486.9 709.4 1485.1 710.7 1488.7 711.0 1485.8 712.0 1487.8 713.3 1493.4 714.6 1492.1 715.9 1491.0 717.2 1492.6 718.5 1486.5 719.8 1496.0 721.1 1492.5 722.4 1490.5 723.7 1493.1 725.0 1495.8 726.3 1491.6 727.6 1493.8 728.9 1500.1 730.2 1498.5 731.5 1496.9 732.8 1495.2 734.1 1492.1 735.4 1494.6 736.7 1497.7 738.0 1498.7 739.0 1502.3 739.3 1497.3 740.6 1497.8 741.9 1496.3 743.2 1493.7 744.5 1498.3 745.8 1494.6 747.1 1495.9 748.4 1494.0 749.7 1497.8 751.0 1495.3 752.3 1498.3 753.6 1502.2 754.9 1497.4 756.2 1497.9 757.5 1495.5 758.8 1493.3 760.1 1502.5 761.4 1492.3 762.7 1503.7 764.0 1501.2 765.3 1498.3 766.0 1500.0 766.6 1498.5 767.9 1499.9 769.2 1500.4 770.5 1499.0 771.8 1498.2 773.1 1498.8 774.4 1499.6 775.7 1499.8 777.0 1500.7 778.3 1502.3 779.6 1501.2 780.9 1501.7 782.2 1501.1 783.5 1501.8 784.8 1501.7 786.1 1501.4 787.4 1501.9 788.7 1499.5 790.0 1496.8 791.3 1502.7 792.6 1501.6 793.9 1502.0 795.2 1501.9 796.5 1496.8 797.8 1502.0 799.1 1502.3 800.4 1501.5 801.7 1497.1 803.0 1499.5 804.3 1501.6 805.6 1502.1 806.9 1498.6 807.0 1500.8 808.2 1502.4 809.5 1496.6 810.8 1498.2 812.1 1499.6 813.4 1498.9 814.7 1501.1 816.0 1504.1 817.3 1501.8 818.6 1500.7 819.9 1501.6 821.2 1506.9 822.5 1507.1 823.8 1500.2 825.1 1505.8 826.4 1505.6 827.7 1501.6 829.0 1502.5 830.3 1504.2 831.6 1500.2 832.9 1502.5 834.0 1503.8 834.2 1500.9 835.5 1502.8 836.8 1506.5 838.1 1499.0 839.4 1507.9 840.7 1508.4 842.0 1503.9 843.3 1504.6 844.6 1504.5 845.9 1499.8 847.2 1505.0 848.5 1503.2 849.8 1504.3 851.1 1498.8 852.4 1507.2 853.7 1504.2 855.0 1505.7 856.3 1504.0 857.6 1507.8 858.9 1503.0 860.0 1502.9 860.2 1501.5 861.5 1505.2 862.8 1507.1 864.1 1509.1 865.4 1506.9 866.7 1505.8 868.0 1505.4 869.3 1503.5 870.6 1502.9 871.9 1506.9 873.2 1505.6 874.5 1504.1 875.8 1505.6 877.1 1508.1 878.4 1500.1 879.7 1507.5 881.0 1505.8 882.3 1505.6 883.6 1502.6 884.9 1508.0 886.2 1507.3 887.5 1504.9 888.8 1501.3 890.1 1504.2 891.4 1505.4 892.7 1503.4 894.0 1506.7 895.3 1501.4 896.6 1510.4 897.9 1502.5 899.2 1502.8 900.5 1507.7 901.8 1505.4 903.1 1505.6 904.4 1503.9 905.7 1507.7 907.0 1505.9 908.3 1507.9 909.6 1508.5 910.9 1503.8 912.2 1510.4 913.5 1506.7 914.8 1503.9 916.1 1510.8 917.4 1503.4 918.7 1512.0 920.0 1503.3 921.3 1510.4 922.6 1501.6 923.9 1497.6 925.2 1506.9 926.5 1504.5 927.8 1508.8 929.1 1513.4 930.4 1506.0 931.7 1504.7 933.0 1504.3 934.3 1508.7 935.6 1504.3 936.0 1502.7 936.9 1507.0 938.2 1511.0 939.5 1504.3 940.8 1507.3 942.1 1507.6 943.4 1506.8 944.7 1507.4 946.0 1509.3 947.3 1510.1 948.6 1505.1 949.9 1504.3 951.2 1510.0 952.5 1504.6 953.8 1508.7 955.1 1508.1 956.4 1511.3 957.7 1508.1 959.0 1508.9 960.3 1505.3 961.6 1509.4 962.9 1505.1 964.2 1510.4 965.5 1511.1 966.8 1513.2 968.1 1509.4 969.4 1507.5 970.7 1505.2 972.0 1506.1 973.3 1509.0 974.6 1509.1 975.9 1509.2 977.2 1506.5 978.5 1505.1 979.8 1502.9 981.1 1510.1 982.4 1507.6 983.7 1507.0 985.0 1509.4 986.3 1514.3 987.6 1508.1 988.9 1508.1 990.2 1506.9 991.5 1510.0 992.8 1505.7 994.1 1506.6 995.4 1510.6 996.7 1508.0 998.0 1510.3 999.3 1511.6 1000.6 1510.0 1001.9 1514.4 1003.2 1509.1 1004.5 1508.2 1005.8 1511.0 1007.1 1509.8 1008.4 1511.6 1009.7 1512.1 1011.0 1509.7 1012.0 1506.9 1012.3 1506.9 1013.6 1514.1 1014.9 1509.2 1016.2 1516.1 1017.5 1511.9 1018.8 1509.9 1020.1 1509.4 1021.4 1508.0 1022.7 1511.5 1024.0 1513.8 1025.3 1513.9 1026.6 1514.1 1027.9 1512.8 1029.2 1510.5 1030.5 1513.9 1031.8 1511.5 1033.1 1513.4 1034.4 1512.8 1035.7 1512.5 1037.0 1513.6 1038.3 1514.3 1039.6 1516.2 1040.9 1517.1 1042.2 1516.3 1043.5 1512.5 1044.8 1513.3 1046.1 1518.4 1047.4 1515.9 1048.7 1515.3 1050.0 1514.5 1051.3 1515.6 1052.6 1511.8 1053.9 1510.5 1055.2 1515.7 1056.5 1511.5 1057.8 1514.0 1059.1 1517.6 1060.4 1513.0 1061.7 1511.2 1063.0 1514.1 1064.3 1509.9 1065.6 1511.8 1066.9 1512.8 1068.2 1515.5 1069.5 1518.8 1070.8 1517.7 1072.1 1519.1 1073.4 1514.2 1074.7 1511.4 1076.0 1512.5 1077.3 1514.3 1078.6 1514.2 1079.9 1514.2 1081.2 1517.6 1082.5 1516.6 1083.8 1518.6 1085.1 1519.8 1086.4 1514.0 1087.7 1514.3 1089.0 1518.0 1090.3 1518.2 1091.6 1513.3 1092.9 1514.2 1094.2 1518.3 1095.5 1517.1 1096.8 1518.4 1098.1 1512.3 1099.4 1515.6 1100.7 1514.6 1102.0 1512.8 1103.3 1513.1 1104.6 1514.8 1105.9 1513.1 1107.2 1516.7 1108.5 1519.4 1109.8 1514.7 1111.1 1515.8 1112.4 1517.0 1113.7 1517.1 1115.0 1518.3 1116.3 1512.9 1117.6 1511.3 1118.9 1514.8 1120.2 1516.5 1121.5 1519.5 1122.8 1518.3 1124.1 1515.1 1125.4 1512.0 1126.7 1517.3 1128.0 1517.5 1129.3 1519.1 1130.6 1518.6 1131.9 1517.3 1133.2 1514.4 1134.5 1516.8 1135.8 1518.0 1137.1 1514.4 1138.4 1516.4 1139.7 1514.3 1141.0 1513.5 1142.3 1514.7 1143.6 1514.3 1144.9 1512.4 1146.2 1513.8 1147.5 1514.1 1148.8 1513.5 1150.1 1516.6 1151.4 1517.3 1152.7 1512.7 1154.0 1512.4 1155.3 1513.6 1156.6 1516.1 1157.9 1511.2 1159.2 1517.2 1160.5 1517.3 1161.8 1518.2 1163.1 1516.5 1164.4 1519.7 1165.0 1518.8 1165.7 1520.4 1167.0 1515.9 1168.3 1510.9 1169.6 1519.9 1170.9 1518.2 1172.2 1518.5 1173.5 1522.1 1174.8 1516.9 1176.1 1519.5 1177.4 1515.6 1178.7 1516.4 1180.0 1516.1 1181.3 1516.5 1182.6 1515.4 1183.9 1521.1 1185.2 1512.2 1186.5 1515.3 1187.8 1515.1 1189.1 1516.7 1190.4 1516.3 1191.7 1512.1 1193.0 1512.9 1194.3 1517.3 1195.6 1515.3 1196.9 1510.8 1198.2 1515.6 1199.5 1521.3 1200.8 1514.1 1202.1 1517.7 1203.4 1521.7 1204.7 1520.9 1206.0 1513.9 1207.3 1516.2 1208.6 1518.3 1209.9 1517.1 1211.2 1517.5 1212.5 1518.9 1213.8 1517.6 1215.1 1518.4 1216.4 1521.1 1217.7 1516.8 1219.0 1520.4 1220.3 1513.5 1221.6 1520.1 1222.9 1517.0 1224.2 1515.6 1225.5 1515.1 1226.8 1519.8 1228.1 1516.8 1229.4 1514.9 1230.7 1513.5 1232.0 1516.2 1233.3 1516.8 1234.6 1517.1 1235.9 1516.0 1237.2 1514.7 1238.5 1517.6 1239.8 1511.6 1241.0 1518.8 1241.1 1522.0 1242.4 1515.3 1243.7 1517.3 1245.0 1516.5 1246.3 1514.3 1247.6 1515.5 1248.9 1515.8 1250.2 1514.9 1251.5 1517.6 1252.8 1516.6 1254.1 1519.7 1255.4 1512.6 1256.7 1514.3 1258.0 1518.1 1259.3 1522.3 1260.6 1519.7 1261.9 1518.6 1263.2 1517.1 1264.5 1516.9 1265.8 1518.6 1267.1 1522.9 1268.4 1518.2 1269.7 1521.1 1271.0 1516.4 1272.3 1519.2 1273.6 1516.7 1274.9 1514.8 1276.2 1518.6 1277.5 1519.5 1278.8 1515.9 1280.1 1520.6 1281.4 1517.9 1282.7 1517.9 1284.0 1519.4 1285.3 1519.0 1286.6 1522.8 1287.9 1515.7 1289.2 1518.9 1290.5 1516.6 1291.8 1521.3 1293.1 1514.4 1294.4 1518.4 1295.7 1519.4 1297.0 1513.9 1298.3 1517.0 1299.6 1521.3 1300.9 1520.8 1302.2 1515.0 1303.5 1520.7 1304.8 1521.1 1306.1 1515.9 1307.4 1520.9 1308.7 1518.3 1310.0 1522.1 1311.3 1515.1 1312.6 1517.6 1313.9 1517.9 1315.2 1516.9 1316.5 1519.2 1317.0 1520.4 1317.8 1516.4 1319.1 1515.2 1320.4 1520.2 1321.7 1522.2 1323.0 1523.0 1324.3 1523.7 1325.6 1516.6 1326.9 1513.3 1328.2 1516.7 1329.5 1518.6 1330.8 1515.8 1332.1 1517.7 1333.4 1514.9 1334.7 1521.2 1336.0 1516.5 1337.3 1517.9 1338.6 1516.1 1339.9 1522.7 1341.2 1514.6 1342.5 1515.5 1343.8 1518.9 1345.1 1518.0 1346.4 1517.3 1347.7 1522.5 1349.0 1516.8 1350.3 1520.9 1351.6 1518.6 1352.9 1516.9 1354.2 1520.5 1355.5 1519.5 1356.8 1516.1 1358.1 1520.9 1359.4 1520.0 1360.7 1518.9 1362.0 1516.8 1363.3 1514.5 1364.6 1515.2 1365.9 1515.6 1367.2 1513.4 1368.5 1521.0 1369.8 1520.6 1371.1 1520.9 1372.4 1516.2 1373.7 1512.7 1375.0 1518.9 1376.3 1516.8 1377.6 1515.9 1378.9 1520.3 1380.2 1519.1 1381.5 1521.3 1382.8 1516.6 1384.1 1519.4 1385.4 1520.5 1386.7 1517.8 1388.0 1518.0 1389.3 1514.5 1390.6 1513.8 1391.9 1521.3 1393.2 1517.7 1394.5 1515.7 1395.8 1515.2 1397.1 1518.7 1398.4 1517.5 1399.7 1511.7 1400.0 1513.5 1401.0 1511.9 1402.3 1510.1 1403.6 1515.5 1404.9 1519.4"/><path fill="#ff0000" stroke="none" d="M277.0 1138.0 L282.0 1139.0 L284.5 1145.0 L286.0 1180.0 L291.7 1188.0 L296.0 1202.0 L304.0 1209.0 L309.0 1216.0 L312.0 1240.0 L317.0 1244.0 L322.0 1246.0 L326.0 1246.0 L331.0 1238.0 L334.0 1234.0 L338.0 1238.0 L338.0 1258.0 L332.7 1268.0 L329.0 1278.0 L325.6 1274.0 L318.4 1265.0 L306.8 1264.0 L302.5 1252.0 L296.8 1240.0 L289.6 1234.0 L286.7 1221.0 L280.2 1216.0 L277.0 1216.0Z"/><path stroke="#000000" d="M275.5 1321.8L276.8 1327.7 277.0 1332.8 278.1 1341.7 278.2 1344.7 279.4 1345.7 280.7 1353.7 281.0 1353.0 282.0 1360.4 283.3 1359.6 283.6 1362.2 284.6 1361.2 285.9 1365.1 287.2 1367.4 288.5 1371.0 289.8 1373.4 290.4 1376.5 291.1 1380.6 292.4 1392.0 293.0 1393.7 293.7 1392.6 295.0 1384.3 296.0 1384.7 296.3 1384.1 297.6 1386.0 298.9 1395.4 300.2 1399.4 301.5 1408.4 302.7 1410.3 302.8 1411.3 304.1 1406.8 305.4 1403.4 306.7 1400.8 308.0 1393.5 309.3 1387.6 310.6 1384.8 310.8 1383.2 311.9 1404.1 312.2 1410.2 313.2 1409.3 314.5 1414.1 315.8 1415.0 317.1 1416.1 318.4 1417.0 319.7 1418.4 321.0 1421.3 321.7 1420.2 322.3 1423.3 323.6 1431.0 324.5 1433.0 324.9 1433.8 326.2 1428.2 327.5 1423.9 328.8 1419.4 330.1 1415.2 331.3 1410.0 331.4 1407.5 332.7 1403.8 334.0 1400.2 335.3 1394.7 336.6 1387.4 337.9 1384.1 338.0 1386.0 339.2 1387.0 340.5 1387.0 341.8 1388.8 343.1 1382.9 343.5 1382.5 344.4 1378.3 345.7 1371.9 347.0 1365.1 348.3 1360.2 349.6 1374.0 350.3 1384.9 350.9 1400.9 351.7 1422.4 352.2 1418.9 353.5 1419.0 354.8 1415.1 356.1 1408.7 357.1 1411.2 357.4 1411.1 358.7 1425.4 360.0 1439.9 361.2 1450.8 361.3 1451.2 362.6 1477.3 363.1 1488.6 363.9 1490.5 365.2 1493.5 366.5 1499.4 367.8 1504.0 369.1 1506.0 370.4 1508.5 371.7 1514.3 371.8 1512.0 373.0 1520.2 374.3 1527.8 375.6 1533.1 376.1 1534.1 376.9 1542.5 378.2 1545.0 379.5 1552.5 380.5 1556.3 380.8 1555.1 382.1 1559.5 383.4 1557.3 384.7 1559.7 386.0 1559.9 387.3 1563.1 388.6 1561.9 389.9 1567.4 390.0 1568.0 391.2 1569.9 392.5 1569.5 393.8 1575.6 395.0 1579.4 395.1 1581.1 396.4 1583.7 397.7 1587.9 399.0 1596.2 400.3 1597.9 401.6 1599.5 402.9 1603.9 403.0 1603.1 404.2 1602.6 405.5 1597.5 406.8 1603.6 408.1 1599.4 409.0 1600.0 409.4 1601.5 410.7 1596.9 412.0 1595.6 413.3 1593.2 414.0 1595.9 414.6 1593.8 415.9 1591.3 417.0 1599.9 417.2 1600.6 418.5 1602.8 419.8 1603.0 421.1 1607.6 422.4 1608.1 423.7 1609.9 424.5 1608.0 425.0 1605.3 426.3 1612.5 427.6 1610.5 428.9 1610.0 430.2 1610.4 431.5 1615.4 432.8 1606.9 434.1 1614.2 435.0 1612.5 435.4 1616.7 436.7 1600.5 438.0 1603.5 439.3 1598.5 440.6 1591.8 440.8 1592.4 441.9 1599.3 443.2 1609.7 444.0 1616.9 444.5 1616.5 445.8 1612.0 447.1 1618.6 448.4 1621.5 449.7 1625.2 451.0 1632.7 451.7 1634.4 452.3 1626.7 453.6 1627.6 454.9 1645.4 455.0 1639.1 456.2 1640.4 457.5 1626.5 458.8 1627.4 460.0 1619.6 460.1 1620.6 461.4 1617.2 462.7 1622.3 464.0 1629.6 465.3 1620.0 466.6 1620.7 467.9 1615.1 468.0 1626.4 469.2 1624.5 470.5 1624.6 471.8 1622.8 473.1 1625.0 474.4 1630.7 475.7 1619.1 477.0 1624.0 478.3 1629.4 479.0 1622.6 479.6 1620.5 480.9 1622.7 482.2 1622.5 483.5 1627.0 484.8 1633.5 486.1 1628.1 487.4 1625.4 488.7 1629.1 490.0 1634.7 491.3 1636.2 492.6 1629.0 493.9 1631.4 495.0 1634.1 495.2 1633.6 496.5 1635.4 497.8 1634.1 499.1 1635.5 500.4 1634.5 501.7 1638.7 503.0 1626.4 504.3 1630.4 505.6 1629.7 506.0 1631.4 506.9 1629.3 508.2 1640.2 509.5 1637.5 510.8 1636.4 512.1 1635.0 513.4 1638.6 514.7 1637.0 516.0 1641.0 517.3 1634.9 518.6 1636.3 519.9 1637.3 521.2 1647.3 522.0 1645.6 522.5 1643.8 523.8 1647.9 525.1 1649.2 526.4 1643.2 527.7 1649.0 529.0 1647.4 530.3 1640.6 531.6 1640.4 532.9 1646.8 534.2 1641.1 535.5 1639.3 536.8 1641.3 538.1 1642.5 539.4 1648.8 540.7 1641.4 542.0 1647.2 543.3 1637.6 544.6 1642.9 545.9 1646.2 546.0 1640.2 547.2 1641.0 548.5 1644.5 549.8 1638.9 551.1 1635.9 552.4 1639.3 553.7 1642.4 555.0 1647.1 556.3 1642.6 557.6 1643.2 558.9 1644.3 560.2 1647.1 561.5 1650.0 562.8 1643.9 564.1 1646.8 565.4 1640.3 566.7 1644.2 568.0 1649.3 569.3 1651.2 570.6 1644.9 571.9 1643.6 572.0 1644.3 573.2 1649.2 574.5 1645.5 575.8 1651.5 577.1 1643.6 578.4 1646.7 579.7 1636.8 581.0 1644.3 582.3 1649.7 583.6 1644.8 584.9 1652.9 586.2 1653.9 587.5 1644.8 588.8 1650.8 590.1 1656.9 591.4 1655.4 592.7 1651.1 594.0 1651.5 595.3 1653.0 596.6 1648.1 597.6 1649.0 597.9 1648.8 599.2 1644.3 600.5 1650.4 601.8 1645.3 603.1 1652.9 604.4 1644.1 605.7 1644.0 607.0 1647.6 608.3 1649.0 609.6 1654.6 610.9 1649.4 612.2 1652.3 613.5 1643.8 614.8 1645.8 616.1 1649.3 617.4 1652.4 618.7 1650.8 620.0 1650.9 621.3 1649.5 622.6 1648.9 623.5 1655.0 623.9 1657.5 625.2 1649.7 626.5 1657.4 627.8 1652.8 629.1 1647.7 630.4 1650.0 631.7 1652.0 633.0 1657.8 634.3 1659.8 635.6 1663.4 636.9 1655.5 638.2 1655.6 639.5 1657.4 640.8 1656.3 642.1 1660.2 643.4 1661.3 644.7 1657.1 646.0 1660.0 647.3 1655.9 648.6 1656.5 649.3 1661.1 649.9 1654.5 651.2 1662.1 652.5 1659.1 653.8 1660.9 655.1 1668.0 656.4 1663.9 657.7 1659.5 659.0 1658.5 660.3 1654.4 661.6 1662.7 662.9 1655.1 664.2 1662.6 665.5 1662.0 666.8 1658.0 668.1 1655.7 669.4 1658.4 670.7 1656.6 672.0 1654.0 673.3 1655.1 674.6 1657.6 675.0 1654.7 675.9 1655.1 677.2 1664.7 678.5 1656.3 679.8 1661.7 681.1 1661.3 682.4 1658.8 683.7 1662.5 685.0 1662.2 686.3 1663.6 687.6 1662.7 688.9 1660.5 690.2 1663.3 691.5 1658.4 692.8 1662.5 694.1 1658.9 695.4 1663.7 696.7 1667.0 698.0 1668.7 699.3 1659.7 700.6 1660.9 701.0 1660.0 701.9 1663.0 703.2 1660.6 704.5 1659.5 705.8 1664.1 707.1 1657.5 708.4 1667.3 709.7 1665.9 711.0 1667.2 712.3 1661.9 713.6 1663.3 714.9 1667.5 716.2 1661.5 717.5 1666.5 718.8 1663.2 720.1 1662.1 721.4 1666.3 722.7 1670.9 724.0 1662.0 725.3 1656.8 726.6 1664.9 727.0 1658.1 727.9 1663.5 729.2 1660.1 730.5 1670.9 731.8 1666.3 733.1 1667.6 734.4 1663.8 735.7 1667.7 737.0 1672.1 738.3 1669.9 739.6 1662.1 740.9 1669.7 742.2 1663.9 743.5 1655.7 744.8 1659.9 746.1 1665.9 747.4 1667.2 748.7 1661.3 750.0 1666.4 751.3 1670.1 752.6 1669.8 753.0 1665.4 753.9 1662.3 755.2 1663.9 756.5 1669.9 757.8 1663.8 759.1 1671.1 760.4 1659.5 761.7 1667.1 763.0 1671.4 764.3 1666.7 765.6 1676.1 766.9 1675.4 768.2 1680.4 769.5 1673.9 770.8 1676.3 772.1 1673.4 773.4 1670.3 774.7 1673.5 776.0 1670.6 777.3 1672.5 778.6 1677.0 779.0 1671.6 779.9 1668.0 781.2 1681.1 782.5 1670.2 783.8 1677.8 785.1 1677.9 786.4 1675.9 787.7 1672.8 789.0 1668.8 790.3 1675.9 791.6 1676.6 792.9 1673.8 794.2 1672.2 795.5 1682.1 796.8 1673.0 798.1 1683.6 799.4 1663.3 800.7 1678.3 802.0 1673.9 803.3 1678.6 804.5 1675.9 804.6 1668.5 805.9 1674.6 807.2 1672.7 808.5 1669.7 809.8 1674.9 811.1 1675.8 812.4 1666.8 813.7 1677.4 815.0 1671.4 816.3 1675.9 817.6 1672.2 818.9 1679.8 820.2 1674.2 821.5 1675.2 822.8 1673.6 824.1 1681.3 825.4 1679.1 826.7 1676.5 828.0 1681.0 829.3 1685.0 830.0 1679.0 830.6 1675.9 831.9 1682.2 833.2 1679.6 834.5 1682.1 835.8 1678.3 837.1 1672.7 838.4 1678.4 839.7 1672.3 841.0 1682.6 842.3 1676.4 843.6 1678.1 844.9 1678.1 846.2 1681.3 847.5 1674.6 848.8 1672.1 850.1 1672.3 851.4 1676.6 852.7 1673.4 854.0 1677.4 855.3 1681.9 856.0 1674.7 856.6 1681.3 857.9 1670.1 859.2 1685.4 860.5 1684.9 861.8 1678.1 863.1 1684.8 864.4 1678.3 865.7 1680.0 867.0 1685.4 868.3 1680.7 869.6 1687.5 870.9 1684.9 872.2 1684.1 873.5 1685.9 874.8 1683.4 876.1 1685.5 877.4 1689.2 878.7 1677.6 880.0 1684.2 881.3 1683.8 882.0 1682.9 882.6 1678.1 883.9 1686.7 885.2 1681.6 886.5 1684.2 887.8 1681.1 889.1 1672.6 890.4 1676.6 891.7 1679.0 893.0 1680.4 894.3 1681.2 895.6 1670.6 896.9 1685.2 898.2 1681.3 899.0 1686.0 899.5 1680.4 900.8 1676.8 902.1 1681.5 903.4 1679.2 904.7 1682.9 906.0 1681.4 907.3 1681.1 908.6 1683.1 909.9 1682.4 911.2 1683.7 912.5 1679.6 913.8 1682.1 915.1 1687.6 916.4 1682.8 917.7 1689.7 919.0 1688.3 920.3 1688.3 921.6 1684.9 922.9 1682.6 924.2 1686.4 925.5 1681.9 926.8 1683.2 928.1 1678.3 929.4 1683.2 930.7 1678.5 932.0 1677.5 933.3 1688.6 934.6 1684.1 935.9 1678.7 937.2 1685.3 938.5 1686.9 939.8 1685.3 941.1 1682.3 942.4 1691.7 943.7 1680.5 945.0 1680.9 946.3 1685.2 947.6 1687.9 948.9 1683.8 950.2 1685.0 951.5 1687.2 952.8 1686.5 954.1 1690.6 955.4 1682.6 956.7 1682.8 958.0 1682.7 959.3 1682.8 960.6 1682.5 961.9 1683.7 963.2 1679.1 964.5 1679.3 965.8 1687.9 967.1 1675.4 968.4 1680.3 969.7 1682.3 971.0 1682.0 972.3 1682.3 973.6 1685.7 974.9 1677.6 976.2 1684.4 977.5 1680.1 978.8 1681.4 980.1 1686.0 981.4 1683.9 982.7 1687.1 984.0 1683.9 985.3 1685.5 986.6 1681.2 987.9 1683.4 989.2 1684.1 990.5 1685.4 991.0 1681.7 991.8 1687.6 993.1 1678.1 994.4 1684.9 995.7 1691.2 997.0 1689.3 998.3 1684.8 999.6 1689.4 1000.9 1687.1 1002.2 1684.6 1003.5 1688.2 1004.8 1687.4 1006.1 1685.8 1007.4 1686.5 1008.7 1690.1 1010.0 1686.4 1011.3 1688.3 1012.6 1685.0 1013.9 1690.1 1015.2 1682.3 1016.5 1676.0 1017.8 1684.1 1019.1 1685.7 1020.4 1688.8 1021.7 1681.1 1023.0 1692.2 1024.3 1684.1 1025.6 1691.6 1026.9 1687.9 1028.2 1683.2 1029.5 1691.0 1030.8 1688.8 1032.1 1688.8 1033.4 1684.4 1034.7 1688.4 1036.0 1690.8 1037.3 1686.7 1038.0 1683.8 1038.6 1685.5 1039.9 1682.5 1041.2 1688.9 1042.5 1684.9 1043.8 1682.7 1045.1 1685.4 1046.4 1687.8 1047.7 1690.6 1049.0 1687.5 1050.3 1681.9 1051.6 1686.5 1052.9 1685.5 1054.2 1681.5 1055.5 1683.1 1056.8 1688.9 1058.1 1688.8 1059.4 1683.7 1060.7 1689.0 1062.0 1690.3 1063.3 1690.8 1064.6 1682.7 1065.9 1680.4 1067.2 1682.3 1068.5 1681.0 1069.8 1683.1 1071.1 1690.8 1072.4 1689.4 1073.7 1686.7 1075.0 1690.2 1076.3 1682.8 1077.6 1689.0 1078.9 1689.7 1080.0 1688.6 1080.2 1691.1 1081.5 1689.8 1082.8 1687.9 1084.1 1688.8 1085.4 1690.5 1086.7 1684.8 1088.0 1689.0 1089.3 1691.0 1090.6 1693.7 1091.9 1684.5 1093.2 1687.6 1094.5 1685.3 1095.8 1686.9 1097.1 1690.3 1098.4 1682.2 1099.7 1688.6 1100.0 1680.8 1101.0 1685.1 1102.3 1686.3 1103.6 1690.8 1104.9 1692.6 1106.2 1684.8 1107.5 1686.0 1108.8 1686.6 1110.1 1685.9 1111.4 1690.1 1112.7 1690.7 1114.0 1687.9 1115.3 1685.4 1116.6 1688.1 1117.9 1689.4 1119.2 1689.7 1120.5 1685.9 1121.8 1683.3 1123.1 1690.6 1124.4 1689.3 1125.7 1689.1 1126.0 1688.2 1127.0 1687.6 1128.3 1687.4 1129.6 1691.7 1130.9 1688.5 1132.2 1693.0 1133.5 1686.7 1134.8 1693.5 1136.1 1686.4 1137.4 1689.7 1138.7 1687.7 1140.0 1688.1 1141.3 1690.9 1142.6 1682.9 1143.9 1687.8 1145.2 1692.8 1146.5 1692.5 1147.8 1685.1 1149.1 1684.3 1150.4 1690.9 1151.7 1691.5 1153.0 1687.8 1154.3 1688.8 1155.6 1690.3 1156.9 1690.9 1158.2 1694.2 1159.5 1680.7 1160.8 1685.5 1162.1 1681.1 1163.4 1688.4 1164.7 1683.9 1165.0 1688.3 1166.0 1681.6 1167.3 1686.7 1168.6 1678.5 1169.9 1687.8 1171.2 1685.1 1172.5 1686.2 1173.0 1675.2 1173.8 1687.2 1175.1 1688.0 1176.4 1684.5 1177.7 1687.9 1179.0 1691.2 1180.0 1684.8 1180.3 1686.7 1181.6 1693.5 1182.9 1687.0 1184.2 1688.2 1185.5 1680.7 1186.8 1686.1 1188.1 1682.6 1189.4 1684.9 1190.7 1689.9 1192.0 1688.3 1193.3 1687.7 1194.6 1692.6 1195.9 1688.7 1196.0 1693.1 1197.2 1691.3 1198.5 1691.1 1199.8 1686.7 1201.1 1691.3 1202.4 1695.9 1203.7 1687.1 1205.0 1689.4 1206.3 1688.5 1207.6 1682.9 1208.9 1687.6 1210.2 1686.8 1211.5 1683.3 1212.8 1688.4 1214.1 1686.0 1215.4 1690.8 1216.7 1687.6 1218.0 1689.6 1219.3 1696.1 1220.6 1688.1 1221.9 1680.2 1223.2 1688.4 1224.5 1688.3 1225.8 1689.0 1227.1 1690.7 1228.4 1688.0 1229.7 1690.6 1231.0 1686.3 1232.3 1686.3 1233.6 1691.0 1234.9 1692.8 1236.2 1696.5 1237.5 1692.7 1238.8 1690.7 1240.1 1697.2 1241.4 1686.5 1242.0 1686.7 1242.7 1689.9 1244.0 1687.2 1245.3 1690.4 1246.6 1685.1 1247.9 1682.5 1249.2 1689.8 1250.5 1692.0 1251.8 1685.9 1253.1 1682.9 1254.4 1694.5 1255.7 1691.5 1257.0 1693.8 1258.3 1689.2 1259.6 1694.4 1260.9 1688.6 1262.2 1690.1 1263.5 1694.5 1264.8 1691.0 1266.1 1687.1 1267.4 1695.4 1268.7 1698.2 1270.0 1697.1 1271.3 1689.8 1272.6 1697.8 1273.9 1687.2 1275.2 1701.0 1276.5 1686.0 1277.8 1695.2 1279.1 1692.5 1280.4 1690.4 1281.7 1689.5 1283.0 1690.5 1284.3 1686.5 1285.6 1690.1 1286.9 1694.4 1288.0 1694.5 1288.2 1691.7 1289.5 1693.5 1290.8 1693.2 1292.1 1690.8 1293.4 1693.3 1294.7 1694.2 1296.0 1687.0 1297.3 1682.5 1298.6 1692.6 1299.9 1687.4 1301.2 1684.3 1302.5 1684.6 1303.8 1685.1 1305.1 1687.9 1306.4 1688.5 1307.7 1690.8 1309.0 1693.7 1310.3 1686.8 1311.6 1695.3 1312.9 1690.1 1314.2 1687.4 1315.5 1692.3 1316.8 1686.7 1318.1 1692.8 1319.4 1693.7 1320.7 1688.0 1322.0 1690.4 1323.3 1699.7 1324.6 1693.7 1325.9 1691.7 1327.2 1695.0 1328.5 1683.8 1329.8 1692.0 1331.1 1690.3 1332.4 1685.7 1333.7 1689.7 1335.0 1684.1 1336.3 1690.4 1337.6 1693.5 1338.9 1697.3 1340.2 1694.8 1341.5 1689.3 1342.8 1685.6 1344.1 1695.7 1345.4 1688.6 1346.7 1691.7 1348.0 1680.1 1349.3 1694.1 1350.6 1693.2 1351.9 1689.6 1353.2 1686.6 1354.5 1693.8 1355.8 1688.2 1357.1 1696.8 1358.4 1692.5 1359.7 1691.6 1361.0 1688.5 1362.3 1689.9 1363.6 1695.0 1364.9 1690.1 1366.2 1692.1 1367.5 1685.5 1368.8 1691.4 1370.1 1687.0 1371.4 1691.5 1372.7 1686.2 1374.0 1691.3 1375.3 1690.6 1376.6 1692.2 1377.9 1688.8 1379.2 1689.2 1380.5 1677.3 1381.8 1687.2 1383.1 1693.6 1384.4 1688.8 1385.7 1685.6 1387.0 1688.8 1388.3 1690.1 1389.6 1689.3 1390.9 1687.4 1392.2 1683.7 1393.5 1685.0 1394.8 1689.1 1396.1 1679.3 1397.4 1684.1 1398.7 1694.0 1400.0 1683.5 1401.3 1689.1 1402.6 1690.7 1403.9 1687.8 1405.2 1693.6"/><path fill="#000000" stroke="none" d="M276.0 1316.0 L281.0 1323.0 L285.0 1340.0 L288.0 1354.0 L293.5 1370.0 L299.6 1377.0 L303.6 1387.0 L308.3 1377.0 L313.0 1378.0 L317.0 1390.0 L321.7 1404.0 L325.0 1400.0 L328.4 1391.0 L335.0 1381.0 L338.0 1377.0 L338.0 1414.0 L331.8 1428.0 L326.0 1436.0 L323.7 1438.0 L318.4 1431.0 L308.3 1424.0 L300.2 1421.0 L291.5 1411.0 L287.0 1409.0 L287.5 1367.0 L283.0 1364.0 L276.0 1366.0Z"/></g><line x1="275.2" y1="49.8" x2="275.2" y2="1757.6" stroke="#1c1c1c" stroke-width="7.0" stroke-linecap="round"/><line x1="275.2" y1="49.8" x2="1401.5" y2="49.8" stroke="#1c1c1c" stroke-width="6.5" stroke-linecap="round"/><line x1="1401.5" y1="49.8" x2="1401.5" y2="1757.6" stroke="#1c1c1c" stroke-width="7.4" stroke-linecap="round"/><line x1="275.2" y1="1757.6" x2="1401.5" y2="1757.6" stroke="#1c1c1c" stroke-width="7.3" stroke-linecap="round"/><path d="M302.6 1757.5V1790.5 M439.8 1757.5V1790.5 M577.0 1757.5V1790.5 M714.2 1757.5V1790.5 M851.4 1757.5V1790.5 M988.6 1757.5V1790.5 M1125.8 1757.5V1790.5 M1263.0 1757.5V1790.5 M1400.2 1757.5V1790.5 M371.2 1757.5V1775.5 M508.4 1757.5V1775.5 M645.6 1757.5V1775.5 M782.8 1757.5V1775.5 M920.0 1757.5V1775.5 M1057.2 1757.5V1775.5 M1194.4 1757.5V1775.5 M1331.6 1757.5V1775.5" stroke="#1c1c1c" stroke-width="6.3" stroke-linecap="round"/><text x="302.6" y="0" transform="translate(0 1877.5) scale(1 1.03)" text-anchor="middle" font-size="87" font-family="Liberation Sans, sans-serif" fill="#111">2</text><text x="439.8" y="0" transform="translate(0 1877.5) scale(1 1.03)" text-anchor="middle" font-size="87" font-family="Liberation Sans, sans-serif" fill="#111">3</text><text x="577.0" y="0" transform="translate(0 1877.5) scale(1 1.03)" text-anchor="middle" font-size="87" font-family="Liberation Sans, sans-serif" fill="#111">4</text><text x="714.2" y="0" transform="translate(0 1877.5) scale(1 1.03)" text-anchor="middle" font-size="87" font-family="Liberation Sans, sans-serif" fill="#111">5</text><text x="851.4" y="0" transform="translate(0 1877.5) scale(1 1.03)" text-anchor="middle" font-size="87" font-family="Liberation Sans, sans-serif" fill="#111">6</text><text x="988.6" y="0" transform="translate(0 1877.5) scale(1 1.03)" text-anchor="middle" font-size="87" font-family="Liberation Sans, sans-serif" fill="#111">7</text><text x="1125.8" y="0" transform="translate(0 1877.5) scale(1 1.03)" text-anchor="middle" font-size="87" font-family="Liberation Sans, sans-serif" fill="#111">8</text><text x="1263.0" y="0" transform="translate(0 1877.5) scale(1 1.03)" text-anchor="middle" font-size="87" font-family="Liberation Sans, sans-serif" fill="#111">9</text><g transform="translate(0 1877.5) scale(1 1.03)"><path transform="translate(1351.81 0) scale(0.04248 -0.04248)" d="M763 0L583 0L583 1147Q518 1085 412 1023Q306 961 222 930L222 1104Q373 1175 486 1276Q599 1377 646 1472L763 1472Z" fill="#111"/><text x="1400.2" y="0" font-size="87" font-family="Liberation Sans, sans-serif" fill="#111">0</text></g><text transform="translate(447.5 2040) scale(1 1.025)" x="-5.4" y="0" font-size="107.5" font-family="Liberation Sans, sans-serif" fill="#111">2 Theta / degree</text><text transform="translate(112 1232) rotate(-90) scale(1 1.025)" x="-9.9" y="0" font-size="107.5" font-family="Liberation Sans, sans-serif" fill="#111">Intensity / a.u.</text><g transform="translate(382 414.5) rotate(-90) scale(1 1.055)"><path transform="translate(-5.00 0) scale(0.03394 -0.03394)" d="M763 0L583 0L583 1147Q518 1085 412 1023Q306 961 222 930L222 1104Q373 1175 486 1276Q599 1377 646 1472L763 1472Z" fill="#111"/><text x="33.7" y="0" font-size="69.5" font-family="Liberation Sans, sans-serif" fill="#111">0</text><text x="72.3" y="0" font-size="69.5" font-family="Liberation Sans, sans-serif" fill="#111">0</text></g><g transform="translate(612 663.5) rotate(-90) scale(1 1.055)"><path transform="translate(-5.00 0) scale(0.03394 -0.03394)" d="M763 0L583 0L583 1147Q518 1085 412 1023Q306 961 222 930L222 1104Q373 1175 486 1276Q599 1377 646 1472L763 1472Z" fill="#111"/><path transform="translate(33.66 0) scale(0.03394 -0.03394)" d="M763 0L583 0L583 1147Q518 1085 412 1023Q306 961 222 930L222 1104Q373 1175 486 1276Q599 1377 646 1472L763 1472Z" fill="#111"/><text x="72.3" y="0" font-size="69.5" font-family="Liberation Sans, sans-serif" fill="#111">0</text></g><g transform="translate(690.5 734.5) rotate(-90) scale(1 1.055)"><text x="-5.0" y="0" font-size="69.5" font-family="Liberation Sans, sans-serif" fill="#111">2</text><text x="33.7" y="0" font-size="69.5" font-family="Liberation Sans, sans-serif" fill="#111">0</text><text x="72.3" y="0" font-size="69.5" font-family="Liberation Sans, sans-serif" fill="#111">0</text></g><line x1="801" y1="150.0" x2="920" y2="150.0" stroke="#000000" stroke-width="13" stroke-linecap="round"/><text x="935" y="167.7" font-size="54.2" font-family="Liberation Sans, sans-serif" fill="#1a1a1a" stroke="#1a1a1a" stroke-width="0.9">uf-P@SiO</text><text transform="translate(1177.3 186.7) scale(1.12 1)" font-size="34" font-family="Liberation Sans, sans-serif" fill="#333" stroke="#333" stroke-width="0.3">2</text><line x1="801" y1="231.5" x2="920" y2="231.5" stroke="#ff0000" stroke-width="13" stroke-linecap="round"/><text x="935" y="249.2" font-size="54.2" font-family="Liberation Sans, sans-serif" fill="#1a1a1a" stroke="#1a1a1a" stroke-width="0.9">uf-P@m-SiO</text><text transform="translate(1240.5 268.2) scale(1.12 1)" font-size="34" font-family="Liberation Sans, sans-serif" fill="#333" stroke="#333" stroke-width="0.3">2</text><text x="1260.2" y="249.2" font-size="54.2" font-family="Liberation Sans, sans-serif" fill="#1a1a1a" stroke="#1a1a1a" stroke-width="0.9">-cal</text><line x1="801" y1="313.0" x2="920" y2="313.0" stroke="#0000ff" stroke-width="13" stroke-linecap="round"/><text x="935" y="330.7" font-size="54.2" font-family="Liberation Sans, sans-serif" fill="#1a1a1a" stroke="#1a1a1a" stroke-width="0.9">uf-OAm@SiO</text><text transform="translate(1264.6 349.7) scale(1.12 1)" font-size="34" font-family="Liberation Sans, sans-serif" fill="#333" stroke="#333" stroke-width="0.3">2</text><line x1="801" y1="394.5" x2="920" y2="394.5" stroke="#ff00ff" stroke-width="13" stroke-linecap="round"/><text x="935" y="412.2" font-size="54.2" font-family="Liberation Sans, sans-serif" fill="#1a1a1a" stroke="#1a1a1a" stroke-width="0.9">m-SiO</text><text transform="translate(1086.0 431.2) scale(1.12 1)" font-size="34" font-family="Liberation Sans, sans-serif" fill="#333" stroke="#333" stroke-width="0.3">2</text><text x="1105.7" y="412.2" font-size="54.2" font-family="Liberation Sans, sans-serif" fill="#1a1a1a" stroke="#1a1a1a" stroke-width="0.9">-cal</text><line x1="801" y1="476.0" x2="920" y2="476.0" stroke="#008000" stroke-width="13" stroke-linecap="round"/><text x="935" y="493.7" font-size="54.2" font-family="Liberation Sans, sans-serif" fill="#1a1a1a" stroke="#1a1a1a" stroke-width="0.9">uf-P@SiO</text><text transform="translate(1177.3 512.7) scale(1.12 1)" font-size="34" font-family="Liberation Sans, sans-serif" fill="#333" stroke="#333" stroke-width="0.3">2</text><text x="1212.0" y="493.7" font-size="54.2" font-family="Liberation Sans, sans-serif" fill="#1a1a1a" stroke="#1a1a1a" stroke-width="0.9">used</text></svg></div>
</body></html>
